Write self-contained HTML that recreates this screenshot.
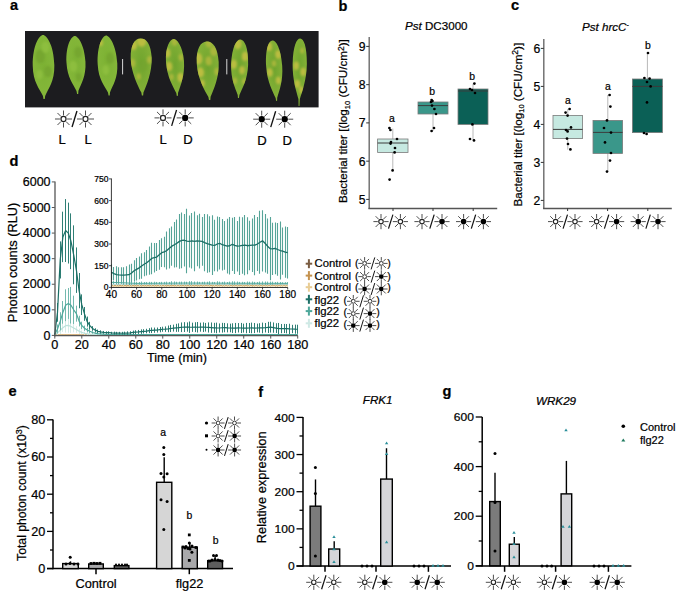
<!DOCTYPE html><html><head><meta charset="utf-8"><style>html,body{margin:0;padding:0;background:#fff;}svg{display:block;}text{font-family:"Liberation Sans", sans-serif;stroke:#000;stroke-width:0.22px;paint-order:stroke;}</style></head><body>
<svg width="685" height="601" viewBox="0 0 685 601">
<rect width="685" height="601" fill="#fff"/>
<text transform="translate(10 9.6) scale(1.04 1)" x="0" y="0" font-size="14" font-weight="bold">a</text>
<text transform="translate(338.5 11) scale(1.04 1)" x="0" y="0" font-size="14" font-weight="bold">b</text>
<text transform="translate(511 9.8) scale(1.04 1)" x="0" y="0" font-size="14" font-weight="bold">c</text>
<text transform="translate(9.6 165.6) scale(1.04 1)" x="0" y="0" font-size="14" font-weight="bold">d</text>
<text transform="translate(8.4 396.2) scale(1.04 1)" x="0" y="0" font-size="14" font-weight="bold">e</text>
<text transform="translate(258.2 397) scale(1.04 1)" x="0" y="0" font-size="14" font-weight="bold">f</text>
<text transform="translate(442.4 395.5) scale(1.04 1)" x="0" y="0" font-size="14" font-weight="bold">g</text>
<defs><radialGradient id="lg1" cx="0.5" cy="0.45" r="0.6"><stop offset="0" stop-color="#7cb134"/><stop offset="1" stop-color="#86b83a"/></radialGradient><radialGradient id="lg2" cx="0.5" cy="0.45" r="0.6"><stop offset="0" stop-color="#6fa42e"/><stop offset="1" stop-color="#88b338"/></radialGradient></defs>
<rect x="25" y="31" width="293.6" height="76.4" fill="#1c1c1f"/>
<defs><filter id="sb" x="-50%" y="-50%" width="200%" height="200%"><feGaussianBlur stdDeviation="1.1"/></filter></defs>
<g transform="translate(43,35) rotate(-1)"><clipPath id="lc430"><path d="M 0 0 C 3.24 0, 10.58 9.15, 10.8 30.5 C 10.8 46.97, 4.32 53.68, 1.08 61 L 0.65 64 L -0.65 64 L -1.08 61 C -4.32 53.68, -10.8 46.97, -10.8 30.5 C -10.58 9.15, -3.24 0, 0 0 Z"/></clipPath><path d="M 0 0 C 3.24 0, 10.58 9.15, 10.8 30.5 C 10.8 46.97, 4.32 53.68, 1.08 61 L 0.65 64 L -0.65 64 L -1.08 61 C -4.32 53.68, -10.8 46.97, -10.8 30.5 C -10.58 9.15, -3.24 0, 0 0 Z" fill="url(#lg1)"/><g clip-path="url(#lc430)" filter="url(#sb)"><ellipse cx="-3.24" cy="21.35" rx="4.8" ry="6.9" fill="#74a52e" opacity="0.85"/><ellipse cx="4.32" cy="36.6" rx="4" ry="5.75" fill="#74a52e" opacity="0.85"/><ellipse cx="2.16" cy="12.2" rx="4" ry="5.75" fill="#8fbf40" opacity="0.85"/><ellipse cx="-4.32" cy="39.65" rx="3.2" ry="4.6" fill="#8fbf40" opacity="0.85"/></g></g>
<g transform="translate(74.6,36) rotate(-3)"><clipPath id="lc746"><path d="M 0 0 C 2.85 0, 9.31 7.92, 9.5 26.4 C 9.5 41.25, 3.8 48.4, 0.95 55 L 0.57 58 L -0.57 58 L -0.95 55 C -3.8 48.4, -9.5 41.25, -9.5 26.4 C -9.31 7.92, -2.85 0, 0 0 Z"/></clipPath><path d="M 0 0 C 2.85 0, 9.31 7.92, 9.5 26.4 C 9.5 41.25, 3.8 48.4, 0.95 55 L 0.57 58 L -0.57 58 L -0.95 55 C -3.8 48.4, -9.5 41.25, -9.5 26.4 C -9.31 7.92, -2.85 0, 0 0 Z" fill="url(#lg1)"/><g clip-path="url(#lc746)" filter="url(#sb)"><ellipse cx="2.85" cy="16.5" rx="4" ry="5.75" fill="#74a52e" opacity="0.85"/><ellipse cx="-2.85" cy="30.25" rx="4" ry="5.75" fill="#8fbf40" opacity="0.85"/><ellipse cx="1.9" cy="41.25" rx="2.88" ry="4.14" fill="#74a52e" opacity="0.85"/></g></g>
<g transform="translate(106,35.6) rotate(-3)"><clipPath id="lc1060"><path d="M 0 0 C 2.94 0, 9.6 8.55, 9.8 28.5 C 9.8 43.89, 3.92 50.16, 0.98 57 L 0.59 60 L -0.59 60 L -0.98 57 C -3.92 50.16, -9.8 43.89, -9.8 28.5 C -9.6 8.55, -2.94 0, 0 0 Z"/></clipPath><path d="M 0 0 C 2.94 0, 9.6 8.55, 9.8 28.5 C 9.8 43.89, 3.92 50.16, 0.98 57 L 0.59 60 L -0.59 60 L -0.98 57 C -3.92 50.16, -9.8 43.89, -9.8 28.5 C -9.6 8.55, -2.94 0, 0 0 Z" fill="url(#lg1)"/><g clip-path="url(#lc1060)" filter="url(#sb)"><ellipse cx="-5.88" cy="6.84" rx="2.4" ry="3.45" fill="#c6c043" opacity="0.85"/><ellipse cx="2.94" cy="22.8" rx="4" ry="5.75" fill="#74a52e" opacity="0.85"/><ellipse cx="-1.96" cy="34.2" rx="3.52" ry="5.06" fill="#8fbf40" opacity="0.85"/></g></g>
<g transform="translate(140.5,38.4) rotate(-2)"><clipPath id="lc1405"><path d="M 0 0 C 5.78 0, 10.29 5.85, 10.5 19.51 C 10.5 34.15, 4.2 47.7, 1.05 54.2 L 0.63 57.2 L -0.63 57.2 L -1.05 54.2 C -4.2 47.7, -10.5 34.15, -10.5 19.51 C -10.29 5.85, -5.78 0, 0 0 Z"/></clipPath><path d="M 0 0 C 5.78 0, 10.29 5.85, 10.5 19.51 C 10.5 34.15, 4.2 47.7, 1.05 54.2 L 0.63 57.2 L -0.63 57.2 L -1.05 54.2 C -4.2 47.7, -10.5 34.15, -10.5 19.51 C -10.29 5.85, -5.78 0, 0 0 Z" fill="url(#lg2)"/><g clip-path="url(#lc1405)" filter="url(#sb)"><ellipse cx="1.05" cy="1.63" rx="4.8" ry="6.9" fill="#c6c043" opacity="0.85"/><ellipse cx="-7.35" cy="6.5" rx="3.52" ry="5.06" fill="#c6c043" opacity="0.85"/><ellipse cx="-8.92" cy="24.39" rx="2.88" ry="4.14" fill="#b0b83c" opacity="0.85"/><ellipse cx="8.4" cy="21.68" rx="2.56" ry="3.68" fill="#b0b83c" opacity="0.85"/><ellipse cx="-3.15" cy="37.94" rx="2.24" ry="3.22" fill="#b0b83c" opacity="0.85"/><ellipse cx="2.1" cy="27.1" rx="4" ry="5.75" fill="#74a52e" opacity="0.85"/></g></g>
<g transform="translate(173.4,39) rotate(-4)"><clipPath id="lc1734"><path d="M 0 0 C 3.15 0, 8.82 6.8, 9 22.68 C 9 37.26, 3.6 47.52, 0.9 54 L 0.54 57 L -0.54 57 L -0.9 54 C -3.6 47.52, -9 37.26, -9 22.68 C -8.82 6.8, -3.15 0, 0 0 Z"/></clipPath><path d="M 0 0 C 3.15 0, 8.82 6.8, 9 22.68 C 9 37.26, 3.6 47.52, 0.9 54 L 0.54 57 L -0.54 57 L -0.9 54 C -3.6 47.52, -9 37.26, -9 22.68 C -8.82 6.8, -3.15 0, 0 0 Z" fill="url(#lg2)"/><g clip-path="url(#lc1734)" filter="url(#sb)"><ellipse cx="-7.2" cy="13.5" rx="3.2" ry="4.6" fill="#c6c043" opacity="0.85"/><ellipse cx="-6.3" cy="27" rx="3.2" ry="4.6" fill="#c6c043" opacity="0.85"/><ellipse cx="4.5" cy="38.88" rx="3.2" ry="4.6" fill="#c6c043" opacity="0.85"/><ellipse cx="6.3" cy="18.9" rx="2.4" ry="3.45" fill="#b0b83c" opacity="0.85"/><ellipse cx="-4.5" cy="37.8" rx="2.08" ry="2.99" fill="#b0b83c" opacity="0.85"/><ellipse cx="0.9" cy="2.7" rx="2.88" ry="4.14" fill="#b0b83c" opacity="0.85"/></g></g>
<g transform="translate(206.6,41.6) rotate(-3)"><clipPath id="lc2066"><path d="M 0 0 C 6.05 0, 10.78 6.32, 11 21.05 C 11 36.01, 4.4 48.75, 1.1 55.4 L 0.66 58.4 L -0.66 58.4 L -1.1 55.4 C -4.4 48.75, -11 36.01, -11 21.05 C -10.78 6.32, -6.05 0, 0 0 Z"/></clipPath><path d="M 0 0 C 6.05 0, 10.78 6.32, 11 21.05 C 11 36.01, 4.4 48.75, 1.1 55.4 L 0.66 58.4 L -0.66 58.4 L -1.1 55.4 C -4.4 48.75, -11 36.01, -11 21.05 C -10.78 6.32, -6.05 0, 0 0 Z" fill="url(#lg2)"/><g clip-path="url(#lc2066)" filter="url(#sb)"><ellipse cx="-9.35" cy="16.62" rx="4.16" ry="5.98" fill="#c6c043" opacity="0.85"/><ellipse cx="-7.7" cy="30.47" rx="3.52" ry="5.06" fill="#c6c043" opacity="0.85"/><ellipse cx="6.6" cy="9.97" rx="3.52" ry="5.06" fill="#b0b83c" opacity="0.85"/><ellipse cx="1.1" cy="19.39" rx="3.2" ry="4.6" fill="#b0b83c" opacity="0.85"/><ellipse cx="-6.6" cy="41.55" rx="2.56" ry="3.68" fill="#c6c043" opacity="0.85"/><ellipse cx="8.8" cy="30.47" rx="2.56" ry="3.68" fill="#b0b83c" opacity="0.85"/><ellipse cx="2.2" cy="1.11" rx="3.52" ry="5.06" fill="#b0b83c" opacity="0.85"/></g></g>
<g transform="translate(240.5,39.5) rotate(2)"><clipPath id="lc2405"><path d="M 0 0 C 3.83 0, 8.33 7.49, 8.5 24.98 C 8.5 39.96, 3.4 48.84, 0.85 55.5 L 0.51 58.5 L -0.51 58.5 L -0.85 55.5 C -3.4 48.84, -8.5 39.96, -8.5 24.98 C -8.33 7.49, -3.83 0, 0 0 Z"/></clipPath><path d="M 0 0 C 3.83 0, 8.33 7.49, 8.5 24.98 C 8.5 39.96, 3.4 48.84, 0.85 55.5 L 0.51 58.5 L -0.51 58.5 L -0.85 55.5 C -3.4 48.84, -8.5 39.96, -8.5 24.98 C -8.33 7.49, -3.83 0, 0 0 Z" fill="url(#lg2)"/><g clip-path="url(#lc2405)" filter="url(#sb)"><ellipse cx="-2.55" cy="4.44" rx="3.68" ry="5.29" fill="#c6c043" opacity="0.85"/><ellipse cx="5.1" cy="16.65" rx="3.2" ry="4.6" fill="#c6c043" opacity="0.85"/><ellipse cx="-5.95" cy="24.98" rx="3.2" ry="4.6" fill="#c6c043" opacity="0.85"/><ellipse cx="2.55" cy="30.53" rx="2.88" ry="4.14" fill="#c6c043" opacity="0.85"/><ellipse cx="-4.25" cy="41.62" rx="2.4" ry="3.45" fill="#b0b83c" opacity="0.85"/><ellipse cx="5.1" cy="41.62" rx="2.24" ry="3.22" fill="#b0b83c" opacity="0.85"/></g></g>
<g transform="translate(272.4,40.5) rotate(-4)"><clipPath id="lc2724"><path d="M 0 0 C 3.6 0, 7.84 7.76, 8 25.88 C 8 41.4, 3.2 50.6, 0.8 57.5 L 0.48 60.5 L -0.48 60.5 L -0.8 57.5 C -3.2 50.6, -8 41.4, -8 25.88 C -7.84 7.76, -3.6 0, 0 0 Z"/></clipPath><path d="M 0 0 C 3.6 0, 7.84 7.76, 8 25.88 C 8 41.4, 3.2 50.6, 0.8 57.5 L 0.48 60.5 L -0.48 60.5 L -0.8 57.5 C -3.2 50.6, -8 41.4, -8 25.88 C -7.84 7.76, -3.6 0, 0 0 Z" fill="url(#lg2)"/><g clip-path="url(#lc2724)" filter="url(#sb)"><ellipse cx="-4" cy="5.75" rx="3.2" ry="4.6" fill="#c6c043" opacity="0.85"/><ellipse cx="4.8" cy="14.38" rx="2.88" ry="4.14" fill="#c6c043" opacity="0.85"/><ellipse cx="-4.8" cy="31.63" rx="2.88" ry="4.14" fill="#c6c043" opacity="0.85"/><ellipse cx="3.2" cy="40.25" rx="2.56" ry="3.68" fill="#c6c043" opacity="0.85"/><ellipse cx="0" cy="23" rx="2.24" ry="3.22" fill="#b0b83c" opacity="0.85"/></g></g>
<g transform="translate(300.2,38.6) rotate(1)"><clipPath id="lc3002"><path d="M 0 0 C 3.55 0, 6.96 7.61, 7.1 25.37 C 7.1 41.68, 2.84 53.15, 0.71 60.4 L 0.43 67.4 L -0.43 67.4 L -0.71 60.4 C -2.84 53.15, -7.1 41.68, -7.1 25.37 C -6.96 7.61, -3.55 0, 0 0 Z"/></clipPath><path d="M 0 0 C 3.55 0, 6.96 7.61, 7.1 25.37 C 7.1 41.68, 2.84 53.15, 0.71 60.4 L 0.43 67.4 L -0.43 67.4 L -0.71 60.4 C -2.84 53.15, -7.1 41.68, -7.1 25.37 C -6.96 7.61, -3.55 0, 0 0 Z" fill="url(#lg2)"/><g clip-path="url(#lc3002)" filter="url(#sb)"><ellipse cx="-3.55" cy="27.18" rx="2.88" ry="4.14" fill="#c6c043" opacity="0.85"/><ellipse cx="3.55" cy="33.22" rx="2.88" ry="4.14" fill="#c6c043" opacity="0.85"/><ellipse cx="-2.13" cy="45.3" rx="2.88" ry="4.14" fill="#c6c043" opacity="0.85"/><ellipse cx="2.13" cy="51.34" rx="2.56" ry="3.68" fill="#c6c043" opacity="0.85"/><ellipse cx="2.13" cy="12.08" rx="2.08" ry="2.99" fill="#b0b83c" opacity="0.85"/></g></g>
<line x1="122.6" y1="59" x2="122.6" y2="74.4" stroke="#d8d8d8" stroke-width="1"/>
<line x1="226.8" y1="59" x2="226.8" y2="74.4" stroke="#d8d8d8" stroke-width="1"/>
<g><line x1="67.08" y1="119" x2="72.01" y2="119" stroke="#2e2e2e" stroke-width="0.85"/><line x1="66.03" y1="121.53" x2="69.52" y2="125.02" stroke="#2e2e2e" stroke-width="0.85"/><line x1="63.5" y1="122.58" x2="63.5" y2="127.51" stroke="#2e2e2e" stroke-width="0.85"/><line x1="60.97" y1="121.53" x2="57.48" y2="125.02" stroke="#2e2e2e" stroke-width="0.85"/><line x1="59.92" y1="119" x2="54.99" y2="119" stroke="#2e2e2e" stroke-width="0.85"/><line x1="60.97" y1="116.47" x2="57.48" y2="112.98" stroke="#2e2e2e" stroke-width="0.85"/><line x1="63.5" y1="115.42" x2="63.5" y2="110.49" stroke="#2e2e2e" stroke-width="0.85"/><line x1="66.03" y1="116.47" x2="69.52" y2="112.98" stroke="#2e2e2e" stroke-width="0.85"/><circle cx="63.5" cy="119" r="2.52" fill="#fff" stroke="#222" stroke-width="1.23"/></g>
<g><line x1="89.08" y1="119" x2="94.01" y2="119" stroke="#2e2e2e" stroke-width="0.85"/><line x1="88.03" y1="121.53" x2="91.52" y2="125.02" stroke="#2e2e2e" stroke-width="0.85"/><line x1="85.5" y1="122.58" x2="85.5" y2="127.51" stroke="#2e2e2e" stroke-width="0.85"/><line x1="82.97" y1="121.53" x2="79.48" y2="125.02" stroke="#2e2e2e" stroke-width="0.85"/><line x1="81.92" y1="119" x2="76.99" y2="119" stroke="#2e2e2e" stroke-width="0.85"/><line x1="82.97" y1="116.47" x2="79.48" y2="112.98" stroke="#2e2e2e" stroke-width="0.85"/><line x1="85.5" y1="115.42" x2="85.5" y2="110.49" stroke="#2e2e2e" stroke-width="0.85"/><line x1="88.03" y1="116.47" x2="91.52" y2="112.98" stroke="#2e2e2e" stroke-width="0.85"/><circle cx="85.5" cy="119" r="2.52" fill="#fff" stroke="#222" stroke-width="1.23"/></g>
<line x1="76.96" y1="111.05" x2="72.04" y2="126.95" stroke="#111" stroke-width="1.344"/>
<g><line x1="166.58" y1="117.9" x2="171.51" y2="117.9" stroke="#2e2e2e" stroke-width="0.85"/><line x1="165.53" y1="120.43" x2="169.02" y2="123.92" stroke="#2e2e2e" stroke-width="0.85"/><line x1="163" y1="121.48" x2="163" y2="126.41" stroke="#2e2e2e" stroke-width="0.85"/><line x1="160.47" y1="120.43" x2="156.98" y2="123.92" stroke="#2e2e2e" stroke-width="0.85"/><line x1="159.42" y1="117.9" x2="154.49" y2="117.9" stroke="#2e2e2e" stroke-width="0.85"/><line x1="160.47" y1="115.37" x2="156.98" y2="111.88" stroke="#2e2e2e" stroke-width="0.85"/><line x1="163" y1="114.32" x2="163" y2="109.39" stroke="#2e2e2e" stroke-width="0.85"/><line x1="165.53" y1="115.37" x2="169.02" y2="111.88" stroke="#2e2e2e" stroke-width="0.85"/><circle cx="163" cy="117.9" r="2.52" fill="#fff" stroke="#222" stroke-width="1.23"/></g>
<g><line x1="188.78" y1="117.9" x2="193.71" y2="117.9" stroke="#2e2e2e" stroke-width="0.85"/><line x1="187.73" y1="120.43" x2="191.22" y2="123.92" stroke="#2e2e2e" stroke-width="0.85"/><line x1="185.2" y1="121.48" x2="185.2" y2="126.41" stroke="#2e2e2e" stroke-width="0.85"/><line x1="182.67" y1="120.43" x2="179.18" y2="123.92" stroke="#2e2e2e" stroke-width="0.85"/><line x1="181.62" y1="117.9" x2="176.69" y2="117.9" stroke="#2e2e2e" stroke-width="0.85"/><line x1="182.67" y1="115.37" x2="179.18" y2="111.88" stroke="#2e2e2e" stroke-width="0.85"/><line x1="185.2" y1="114.32" x2="185.2" y2="109.39" stroke="#2e2e2e" stroke-width="0.85"/><line x1="187.73" y1="115.37" x2="191.22" y2="111.88" stroke="#2e2e2e" stroke-width="0.85"/><circle cx="185.2" cy="117.9" r="3.14" fill="#000"/></g>
<line x1="176.56" y1="109.95" x2="171.64" y2="125.85" stroke="#111" stroke-width="1.344"/>
<g><line x1="265.28" y1="119.2" x2="270.21" y2="119.2" stroke="#2e2e2e" stroke-width="0.85"/><line x1="264.23" y1="121.73" x2="267.72" y2="125.22" stroke="#2e2e2e" stroke-width="0.85"/><line x1="261.7" y1="122.78" x2="261.7" y2="127.71" stroke="#2e2e2e" stroke-width="0.85"/><line x1="259.17" y1="121.73" x2="255.68" y2="125.22" stroke="#2e2e2e" stroke-width="0.85"/><line x1="258.12" y1="119.2" x2="253.19" y2="119.2" stroke="#2e2e2e" stroke-width="0.85"/><line x1="259.17" y1="116.67" x2="255.68" y2="113.18" stroke="#2e2e2e" stroke-width="0.85"/><line x1="261.7" y1="115.62" x2="261.7" y2="110.69" stroke="#2e2e2e" stroke-width="0.85"/><line x1="264.23" y1="116.67" x2="267.72" y2="113.18" stroke="#2e2e2e" stroke-width="0.85"/><circle cx="261.7" cy="119.2" r="3.14" fill="#000"/></g>
<g><line x1="288.28" y1="119.2" x2="293.21" y2="119.2" stroke="#2e2e2e" stroke-width="0.85"/><line x1="287.23" y1="121.73" x2="290.72" y2="125.22" stroke="#2e2e2e" stroke-width="0.85"/><line x1="284.7" y1="122.78" x2="284.7" y2="127.71" stroke="#2e2e2e" stroke-width="0.85"/><line x1="282.17" y1="121.73" x2="278.68" y2="125.22" stroke="#2e2e2e" stroke-width="0.85"/><line x1="281.12" y1="119.2" x2="276.19" y2="119.2" stroke="#2e2e2e" stroke-width="0.85"/><line x1="282.17" y1="116.67" x2="278.68" y2="113.18" stroke="#2e2e2e" stroke-width="0.85"/><line x1="284.7" y1="115.62" x2="284.7" y2="110.69" stroke="#2e2e2e" stroke-width="0.85"/><line x1="287.23" y1="116.67" x2="290.72" y2="113.18" stroke="#2e2e2e" stroke-width="0.85"/><circle cx="284.7" cy="119.2" r="3.14" fill="#000"/></g>
<line x1="275.66" y1="111.25" x2="270.74" y2="127.15" stroke="#111" stroke-width="1.344"/>
<text transform="translate(58.5 144) scale(1.04 1)" x="0" y="0" font-size="12.6">L</text>
<text transform="translate(84.6 144) scale(1.04 1)" x="0" y="0" font-size="12.6">L</text>
<text transform="translate(159.4 144) scale(1.04 1)" x="0" y="0" font-size="12.6">L</text>
<text transform="translate(183.2 143.6) scale(1.04 1)" x="0" y="0" font-size="12.6">D</text>
<text transform="translate(257.2 145.3) scale(1.04 1)" x="0" y="0" font-size="12.6">D</text>
<text transform="translate(282.5 145.3) scale(1.04 1)" x="0" y="0" font-size="12.6">D</text>
<line x1="369.2" y1="37" x2="369.2" y2="209" stroke="#6a6a6a" stroke-width="1.4"/>
<line x1="368.5" y1="208.5" x2="497.2" y2="208.5" stroke="#555" stroke-width="1.3"/>
<line x1="366.2" y1="199.4" x2="369.2" y2="199.4" stroke="#333" stroke-width="1"/>
<text x="365.6" y="203.8" font-size="12.2" text-anchor="end">5</text>
<line x1="366.2" y1="161.15" x2="369.2" y2="161.15" stroke="#333" stroke-width="1"/>
<text x="365.6" y="165.55" font-size="12.2" text-anchor="end">6</text>
<line x1="366.2" y1="122.9" x2="369.2" y2="122.9" stroke="#333" stroke-width="1"/>
<text x="365.6" y="127.3" font-size="12.2" text-anchor="end">7</text>
<line x1="366.2" y1="84.65" x2="369.2" y2="84.65" stroke="#333" stroke-width="1"/>
<text x="365.6" y="89.05" font-size="12.2" text-anchor="end">8</text>
<line x1="366.2" y1="46.4" x2="369.2" y2="46.4" stroke="#333" stroke-width="1"/>
<text x="365.6" y="50.8" font-size="12.2" text-anchor="end">9</text>
<line x1="393" y1="208.4" x2="393" y2="211" stroke="#333" stroke-width="1"/>
<line x1="433" y1="208.4" x2="433" y2="211" stroke="#333" stroke-width="1"/>
<line x1="473.2" y1="208.4" x2="473.2" y2="211" stroke="#333" stroke-width="1"/>
<line x1="392.8" y1="128.6" x2="392.8" y2="170.4" stroke="#b8b8b8" stroke-width="1"/>
<rect x="377.6" y="139" width="30.4" height="13.4" fill="#c6e9e1" stroke="#7a7a7a" stroke-width="0.8"/>
<line x1="377.6" y1="143" x2="408" y2="143" stroke="#3c3c3c" stroke-width="1"/>
<line x1="433" y1="100" x2="433" y2="131" stroke="#b8b8b8" stroke-width="1"/>
<rect x="418" y="102" width="30" height="12" fill="#3a978a" stroke="#7a7a7a" stroke-width="0.8"/>
<line x1="418" y1="105.6" x2="448" y2="105.6" stroke="#3c3c3c" stroke-width="1"/>
<line x1="473" y1="83.6" x2="473" y2="140" stroke="#b8b8b8" stroke-width="1"/>
<rect x="458" y="89" width="30" height="35.4" fill="#0b6056" stroke="#7a7a7a" stroke-width="0.8"/>
<line x1="458" y1="91" x2="488" y2="91" stroke="#3c3c3c" stroke-width="1"/>
<circle cx="389.4" cy="128" r="1.35" fill="#000"/>
<circle cx="390.4" cy="130" r="1.35" fill="#000"/>
<circle cx="397" cy="139" r="1.35" fill="#000"/>
<circle cx="391" cy="142" r="1.35" fill="#000"/>
<circle cx="390.6" cy="143.6" r="1.35" fill="#000"/>
<circle cx="395" cy="148" r="1.35" fill="#000"/>
<circle cx="394.6" cy="152.4" r="1.35" fill="#000"/>
<circle cx="392.6" cy="170.4" r="1.35" fill="#000"/>
<circle cx="389.6" cy="179.6" r="1.35" fill="#000"/>
<circle cx="431.6" cy="100" r="1.35" fill="#000"/>
<circle cx="431" cy="102" r="1.35" fill="#000"/>
<circle cx="432.4" cy="101" r="1.35" fill="#000"/>
<circle cx="432" cy="105.6" r="1.35" fill="#000"/>
<circle cx="434.4" cy="109" r="1.35" fill="#000"/>
<circle cx="436" cy="114" r="1.35" fill="#000"/>
<circle cx="434" cy="128" r="1.35" fill="#000"/>
<circle cx="431.6" cy="131" r="1.35" fill="#000"/>
<circle cx="474.4" cy="83.6" r="1.35" fill="#000"/>
<circle cx="470" cy="89" r="1.35" fill="#000"/>
<circle cx="472" cy="90" r="1.35" fill="#000"/>
<circle cx="475" cy="93" r="1.35" fill="#000"/>
<circle cx="472.4" cy="124.4" r="1.35" fill="#000"/>
<circle cx="470" cy="139" r="1.35" fill="#000"/>
<circle cx="474" cy="140.4" r="1.35" fill="#000"/>
<text transform="translate(391.9 122) scale(1.04 1)" x="0" y="0" font-size="10" text-anchor="middle">a</text>
<text transform="translate(432.2 95) scale(1.04 1)" x="0" y="0" font-size="10" text-anchor="middle">b</text>
<text transform="translate(472.2 80) scale(1.04 1)" x="0" y="0" font-size="10" text-anchor="middle">b</text>
<g><line x1="384.2" y1="221.6" x2="388.6" y2="221.6" stroke="#2e2e2e" stroke-width="0.85"/><line x1="383.26" y1="223.86" x2="386.37" y2="226.97" stroke="#2e2e2e" stroke-width="0.85"/><line x1="381" y1="224.8" x2="381" y2="229.2" stroke="#2e2e2e" stroke-width="0.85"/><line x1="378.74" y1="223.86" x2="375.63" y2="226.97" stroke="#2e2e2e" stroke-width="0.85"/><line x1="377.8" y1="221.6" x2="373.4" y2="221.6" stroke="#2e2e2e" stroke-width="0.85"/><line x1="378.74" y1="219.34" x2="375.63" y2="216.23" stroke="#2e2e2e" stroke-width="0.85"/><line x1="381" y1="218.4" x2="381" y2="214" stroke="#2e2e2e" stroke-width="0.85"/><line x1="383.26" y1="219.34" x2="386.37" y2="216.23" stroke="#2e2e2e" stroke-width="0.85"/><circle cx="381" cy="221.6" r="2.25" fill="#fff" stroke="#222" stroke-width="1.1"/></g>
<g><line x1="403.6" y1="221.6" x2="408" y2="221.6" stroke="#2e2e2e" stroke-width="0.85"/><line x1="402.66" y1="223.86" x2="405.77" y2="226.97" stroke="#2e2e2e" stroke-width="0.85"/><line x1="400.4" y1="224.8" x2="400.4" y2="229.2" stroke="#2e2e2e" stroke-width="0.85"/><line x1="398.14" y1="223.86" x2="395.03" y2="226.97" stroke="#2e2e2e" stroke-width="0.85"/><line x1="397.2" y1="221.6" x2="392.8" y2="221.6" stroke="#2e2e2e" stroke-width="0.85"/><line x1="398.14" y1="219.34" x2="395.03" y2="216.23" stroke="#2e2e2e" stroke-width="0.85"/><line x1="400.4" y1="218.4" x2="400.4" y2="214" stroke="#2e2e2e" stroke-width="0.85"/><line x1="402.66" y1="219.34" x2="405.77" y2="216.23" stroke="#2e2e2e" stroke-width="0.85"/><circle cx="400.4" cy="221.6" r="2.25" fill="#fff" stroke="#222" stroke-width="1.1"/></g>
<line x1="392.9" y1="214.6" x2="388.5" y2="228.6" stroke="#111" stroke-width="1.2"/>
<g><line x1="425.2" y1="221.6" x2="429.6" y2="221.6" stroke="#2e2e2e" stroke-width="0.85"/><line x1="424.26" y1="223.86" x2="427.37" y2="226.97" stroke="#2e2e2e" stroke-width="0.85"/><line x1="422" y1="224.8" x2="422" y2="229.2" stroke="#2e2e2e" stroke-width="0.85"/><line x1="419.74" y1="223.86" x2="416.63" y2="226.97" stroke="#2e2e2e" stroke-width="0.85"/><line x1="418.8" y1="221.6" x2="414.4" y2="221.6" stroke="#2e2e2e" stroke-width="0.85"/><line x1="419.74" y1="219.34" x2="416.63" y2="216.23" stroke="#2e2e2e" stroke-width="0.85"/><line x1="422" y1="218.4" x2="422" y2="214" stroke="#2e2e2e" stroke-width="0.85"/><line x1="424.26" y1="219.34" x2="427.37" y2="216.23" stroke="#2e2e2e" stroke-width="0.85"/><circle cx="422" cy="221.6" r="2.25" fill="#fff" stroke="#222" stroke-width="1.1"/></g>
<g><line x1="445.2" y1="221.6" x2="449.6" y2="221.6" stroke="#2e2e2e" stroke-width="0.85"/><line x1="444.26" y1="223.86" x2="447.37" y2="226.97" stroke="#2e2e2e" stroke-width="0.85"/><line x1="442" y1="224.8" x2="442" y2="229.2" stroke="#2e2e2e" stroke-width="0.85"/><line x1="439.74" y1="223.86" x2="436.63" y2="226.97" stroke="#2e2e2e" stroke-width="0.85"/><line x1="438.8" y1="221.6" x2="434.4" y2="221.6" stroke="#2e2e2e" stroke-width="0.85"/><line x1="439.74" y1="219.34" x2="436.63" y2="216.23" stroke="#2e2e2e" stroke-width="0.85"/><line x1="442" y1="218.4" x2="442" y2="214" stroke="#2e2e2e" stroke-width="0.85"/><line x1="444.26" y1="219.34" x2="447.37" y2="216.23" stroke="#2e2e2e" stroke-width="0.85"/><circle cx="442" cy="221.6" r="2.8" fill="#000"/></g>
<line x1="434.2" y1="214.6" x2="429.8" y2="228.6" stroke="#111" stroke-width="1.2"/>
<g><line x1="466.8" y1="221.6" x2="471.2" y2="221.6" stroke="#2e2e2e" stroke-width="0.85"/><line x1="465.86" y1="223.86" x2="468.97" y2="226.97" stroke="#2e2e2e" stroke-width="0.85"/><line x1="463.6" y1="224.8" x2="463.6" y2="229.2" stroke="#2e2e2e" stroke-width="0.85"/><line x1="461.34" y1="223.86" x2="458.23" y2="226.97" stroke="#2e2e2e" stroke-width="0.85"/><line x1="460.4" y1="221.6" x2="456" y2="221.6" stroke="#2e2e2e" stroke-width="0.85"/><line x1="461.34" y1="219.34" x2="458.23" y2="216.23" stroke="#2e2e2e" stroke-width="0.85"/><line x1="463.6" y1="218.4" x2="463.6" y2="214" stroke="#2e2e2e" stroke-width="0.85"/><line x1="465.86" y1="219.34" x2="468.97" y2="216.23" stroke="#2e2e2e" stroke-width="0.85"/><circle cx="463.6" cy="221.6" r="2.8" fill="#000"/></g>
<g><line x1="486.6" y1="221.6" x2="491" y2="221.6" stroke="#2e2e2e" stroke-width="0.85"/><line x1="485.66" y1="223.86" x2="488.77" y2="226.97" stroke="#2e2e2e" stroke-width="0.85"/><line x1="483.4" y1="224.8" x2="483.4" y2="229.2" stroke="#2e2e2e" stroke-width="0.85"/><line x1="481.14" y1="223.86" x2="478.03" y2="226.97" stroke="#2e2e2e" stroke-width="0.85"/><line x1="480.2" y1="221.6" x2="475.8" y2="221.6" stroke="#2e2e2e" stroke-width="0.85"/><line x1="481.14" y1="219.34" x2="478.03" y2="216.23" stroke="#2e2e2e" stroke-width="0.85"/><line x1="483.4" y1="218.4" x2="483.4" y2="214" stroke="#2e2e2e" stroke-width="0.85"/><line x1="485.66" y1="219.34" x2="488.77" y2="216.23" stroke="#2e2e2e" stroke-width="0.85"/><circle cx="483.4" cy="221.6" r="2.8" fill="#000"/></g>
<line x1="475.7" y1="214.6" x2="471.3" y2="228.6" stroke="#111" stroke-width="1.2"/>
<text x="405" y="30.4" font-size="11.6"><tspan font-style="italic">Pst</tspan> DC3000</text>
<text x="347.5" y="121.1" font-size="11.65" text-anchor="middle" transform="rotate(-90 347.5 121.1)">Bacterial titer [(log<tspan font-size="7.5" dy="2.5">10</tspan><tspan dy="-2.5"> (CFU/cm</tspan><tspan font-size="8.5" dy="-3.6">2</tspan><tspan dy="3.6">)]</tspan></text>
<line x1="543.8" y1="39" x2="543.8" y2="209" stroke="#6a6a6a" stroke-width="1.4"/>
<line x1="543.1" y1="208.5" x2="671.8" y2="208.5" stroke="#555" stroke-width="1.3"/>
<line x1="540.8" y1="200.4" x2="543.8" y2="200.4" stroke="#333" stroke-width="1"/>
<text x="540.2" y="204.8" font-size="12.2" text-anchor="end">2</text>
<line x1="540.8" y1="162.4" x2="543.8" y2="162.4" stroke="#333" stroke-width="1"/>
<text x="540.2" y="166.8" font-size="12.2" text-anchor="end">3</text>
<line x1="540.8" y1="124.4" x2="543.8" y2="124.4" stroke="#333" stroke-width="1"/>
<text x="540.2" y="128.8" font-size="12.2" text-anchor="end">4</text>
<line x1="540.8" y1="86.4" x2="543.8" y2="86.4" stroke="#333" stroke-width="1"/>
<text x="540.2" y="90.8" font-size="12.2" text-anchor="end">5</text>
<line x1="540.8" y1="48.4" x2="543.8" y2="48.4" stroke="#333" stroke-width="1"/>
<text x="540.2" y="52.8" font-size="12.2" text-anchor="end">6</text>
<line x1="567.6" y1="208.4" x2="567.6" y2="211" stroke="#333" stroke-width="1"/>
<line x1="607.6" y1="208.4" x2="607.6" y2="211" stroke="#333" stroke-width="1"/>
<line x1="647.8" y1="208.4" x2="647.8" y2="211" stroke="#333" stroke-width="1"/>
<line x1="567.8" y1="109" x2="567.8" y2="149.6" stroke="#b8b8b8" stroke-width="1"/>
<rect x="553" y="115.4" width="29.6" height="23.2" fill="#c6e9e1" stroke="#7a7a7a" stroke-width="0.8"/>
<line x1="553" y1="129.4" x2="582.6" y2="129.4" stroke="#3c3c3c" stroke-width="1"/>
<line x1="607.8" y1="95" x2="607.8" y2="171.6" stroke="#b8b8b8" stroke-width="1"/>
<rect x="593" y="120.4" width="29.6" height="33" fill="#3a978a" stroke="#7a7a7a" stroke-width="0.8"/>
<line x1="593" y1="132.4" x2="622.6" y2="132.4" stroke="#3c3c3c" stroke-width="1"/>
<line x1="647.4" y1="53" x2="647.4" y2="133" stroke="#b8b8b8" stroke-width="1"/>
<rect x="632.4" y="79" width="30" height="53.6" fill="#0b6056" stroke="#7a7a7a" stroke-width="0.8"/>
<line x1="632.4" y1="86.4" x2="662.4" y2="86.4" stroke="#3c3c3c" stroke-width="1"/>
<circle cx="569.6" cy="109" r="1.35" fill="#000"/>
<circle cx="565.6" cy="112.6" r="1.35" fill="#000"/>
<circle cx="567.6" cy="115.6" r="1.35" fill="#000"/>
<circle cx="571" cy="127.4" r="1.35" fill="#000"/>
<circle cx="566" cy="130" r="1.35" fill="#000"/>
<circle cx="567.6" cy="131.4" r="1.35" fill="#000"/>
<circle cx="567" cy="138.6" r="1.35" fill="#000"/>
<circle cx="568" cy="144" r="1.35" fill="#000"/>
<circle cx="570.4" cy="149.4" r="1.35" fill="#000"/>
<circle cx="609.6" cy="95" r="1.35" fill="#000"/>
<circle cx="610.4" cy="106.6" r="1.35" fill="#000"/>
<circle cx="607" cy="120.4" r="1.35" fill="#000"/>
<circle cx="604" cy="128" r="1.35" fill="#000"/>
<circle cx="611" cy="132.6" r="1.35" fill="#000"/>
<circle cx="605" cy="142.4" r="1.35" fill="#000"/>
<circle cx="611" cy="153" r="1.35" fill="#000"/>
<circle cx="610" cy="160.6" r="1.35" fill="#000"/>
<circle cx="607" cy="171.6" r="1.35" fill="#000"/>
<circle cx="648" cy="53" r="1.35" fill="#000"/>
<circle cx="644.4" cy="78" r="1.35" fill="#000"/>
<circle cx="649.6" cy="78.6" r="1.35" fill="#000"/>
<circle cx="647" cy="82" r="1.35" fill="#000"/>
<circle cx="650.6" cy="86.4" r="1.35" fill="#000"/>
<circle cx="647" cy="102.4" r="1.35" fill="#000"/>
<circle cx="644" cy="133" r="1.35" fill="#000"/>
<circle cx="646.6" cy="134" r="1.35" fill="#000"/>
<text transform="translate(568 104.4) scale(1.04 1)" x="0" y="0" font-size="10" text-anchor="middle">a</text>
<text transform="translate(608 89.6) scale(1.04 1)" x="0" y="0" font-size="10" text-anchor="middle">a</text>
<text transform="translate(647.8 48.5) scale(1.04 1)" x="0" y="0" font-size="10" text-anchor="middle">b</text>
<g><line x1="558.8" y1="221.6" x2="563.2" y2="221.6" stroke="#2e2e2e" stroke-width="0.85"/><line x1="557.86" y1="223.86" x2="560.97" y2="226.97" stroke="#2e2e2e" stroke-width="0.85"/><line x1="555.6" y1="224.8" x2="555.6" y2="229.2" stroke="#2e2e2e" stroke-width="0.85"/><line x1="553.34" y1="223.86" x2="550.23" y2="226.97" stroke="#2e2e2e" stroke-width="0.85"/><line x1="552.4" y1="221.6" x2="548" y2="221.6" stroke="#2e2e2e" stroke-width="0.85"/><line x1="553.34" y1="219.34" x2="550.23" y2="216.23" stroke="#2e2e2e" stroke-width="0.85"/><line x1="555.6" y1="218.4" x2="555.6" y2="214" stroke="#2e2e2e" stroke-width="0.85"/><line x1="557.86" y1="219.34" x2="560.97" y2="216.23" stroke="#2e2e2e" stroke-width="0.85"/><circle cx="555.6" cy="221.6" r="2.25" fill="#fff" stroke="#222" stroke-width="1.1"/></g>
<g><line x1="578.2" y1="221.6" x2="582.6" y2="221.6" stroke="#2e2e2e" stroke-width="0.85"/><line x1="577.26" y1="223.86" x2="580.37" y2="226.97" stroke="#2e2e2e" stroke-width="0.85"/><line x1="575" y1="224.8" x2="575" y2="229.2" stroke="#2e2e2e" stroke-width="0.85"/><line x1="572.74" y1="223.86" x2="569.63" y2="226.97" stroke="#2e2e2e" stroke-width="0.85"/><line x1="571.8" y1="221.6" x2="567.4" y2="221.6" stroke="#2e2e2e" stroke-width="0.85"/><line x1="572.74" y1="219.34" x2="569.63" y2="216.23" stroke="#2e2e2e" stroke-width="0.85"/><line x1="575" y1="218.4" x2="575" y2="214" stroke="#2e2e2e" stroke-width="0.85"/><line x1="577.26" y1="219.34" x2="580.37" y2="216.23" stroke="#2e2e2e" stroke-width="0.85"/><circle cx="575" cy="221.6" r="2.25" fill="#fff" stroke="#222" stroke-width="1.1"/></g>
<line x1="567.5" y1="214.6" x2="563.1" y2="228.6" stroke="#111" stroke-width="1.2"/>
<g><line x1="599.8" y1="221.6" x2="604.2" y2="221.6" stroke="#2e2e2e" stroke-width="0.85"/><line x1="598.86" y1="223.86" x2="601.97" y2="226.97" stroke="#2e2e2e" stroke-width="0.85"/><line x1="596.6" y1="224.8" x2="596.6" y2="229.2" stroke="#2e2e2e" stroke-width="0.85"/><line x1="594.34" y1="223.86" x2="591.23" y2="226.97" stroke="#2e2e2e" stroke-width="0.85"/><line x1="593.4" y1="221.6" x2="589" y2="221.6" stroke="#2e2e2e" stroke-width="0.85"/><line x1="594.34" y1="219.34" x2="591.23" y2="216.23" stroke="#2e2e2e" stroke-width="0.85"/><line x1="596.6" y1="218.4" x2="596.6" y2="214" stroke="#2e2e2e" stroke-width="0.85"/><line x1="598.86" y1="219.34" x2="601.97" y2="216.23" stroke="#2e2e2e" stroke-width="0.85"/><circle cx="596.6" cy="221.6" r="2.25" fill="#fff" stroke="#222" stroke-width="1.1"/></g>
<g><line x1="619.8" y1="221.6" x2="624.2" y2="221.6" stroke="#2e2e2e" stroke-width="0.85"/><line x1="618.86" y1="223.86" x2="621.97" y2="226.97" stroke="#2e2e2e" stroke-width="0.85"/><line x1="616.6" y1="224.8" x2="616.6" y2="229.2" stroke="#2e2e2e" stroke-width="0.85"/><line x1="614.34" y1="223.86" x2="611.23" y2="226.97" stroke="#2e2e2e" stroke-width="0.85"/><line x1="613.4" y1="221.6" x2="609" y2="221.6" stroke="#2e2e2e" stroke-width="0.85"/><line x1="614.34" y1="219.34" x2="611.23" y2="216.23" stroke="#2e2e2e" stroke-width="0.85"/><line x1="616.6" y1="218.4" x2="616.6" y2="214" stroke="#2e2e2e" stroke-width="0.85"/><line x1="618.86" y1="219.34" x2="621.97" y2="216.23" stroke="#2e2e2e" stroke-width="0.85"/><circle cx="616.6" cy="221.6" r="2.8" fill="#000"/></g>
<line x1="608.8" y1="214.6" x2="604.4" y2="228.6" stroke="#111" stroke-width="1.2"/>
<g><line x1="641.4" y1="221.6" x2="645.8" y2="221.6" stroke="#2e2e2e" stroke-width="0.85"/><line x1="640.46" y1="223.86" x2="643.57" y2="226.97" stroke="#2e2e2e" stroke-width="0.85"/><line x1="638.2" y1="224.8" x2="638.2" y2="229.2" stroke="#2e2e2e" stroke-width="0.85"/><line x1="635.94" y1="223.86" x2="632.83" y2="226.97" stroke="#2e2e2e" stroke-width="0.85"/><line x1="635" y1="221.6" x2="630.6" y2="221.6" stroke="#2e2e2e" stroke-width="0.85"/><line x1="635.94" y1="219.34" x2="632.83" y2="216.23" stroke="#2e2e2e" stroke-width="0.85"/><line x1="638.2" y1="218.4" x2="638.2" y2="214" stroke="#2e2e2e" stroke-width="0.85"/><line x1="640.46" y1="219.34" x2="643.57" y2="216.23" stroke="#2e2e2e" stroke-width="0.85"/><circle cx="638.2" cy="221.6" r="2.8" fill="#000"/></g>
<g><line x1="661.2" y1="221.6" x2="665.6" y2="221.6" stroke="#2e2e2e" stroke-width="0.85"/><line x1="660.26" y1="223.86" x2="663.37" y2="226.97" stroke="#2e2e2e" stroke-width="0.85"/><line x1="658" y1="224.8" x2="658" y2="229.2" stroke="#2e2e2e" stroke-width="0.85"/><line x1="655.74" y1="223.86" x2="652.63" y2="226.97" stroke="#2e2e2e" stroke-width="0.85"/><line x1="654.8" y1="221.6" x2="650.4" y2="221.6" stroke="#2e2e2e" stroke-width="0.85"/><line x1="655.74" y1="219.34" x2="652.63" y2="216.23" stroke="#2e2e2e" stroke-width="0.85"/><line x1="658" y1="218.4" x2="658" y2="214" stroke="#2e2e2e" stroke-width="0.85"/><line x1="660.26" y1="219.34" x2="663.37" y2="216.23" stroke="#2e2e2e" stroke-width="0.85"/><circle cx="658" cy="221.6" r="2.8" fill="#000"/></g>
<line x1="650.3" y1="214.6" x2="645.9" y2="228.6" stroke="#111" stroke-width="1.2"/>
<text x="582" y="31" font-size="11.6"><tspan font-style="italic">Pst hrcC</tspan><tspan font-size="7" dy="-4">-</tspan></text>
<text x="522" y="124.7" font-size="11.65" text-anchor="middle" transform="rotate(-90 522 124.7)">Bacterial titer [(log<tspan font-size="7.5" dy="2.5">10</tspan><tspan dy="-2.5"> (CFU/cm</tspan><tspan font-size="8.5" dy="-3.6">2</tspan><tspan dy="3.6">)]</tspan></text>
<defs><clipPath id="mainclip"><rect x="54" y="170" width="250" height="166"/></clipPath><clipPath id="inclip"><rect x="111" y="170" width="178" height="118"/></clipPath></defs>
<g clip-path="url(#mainclip)"><path d="M54.5 335.27V334.76M57.5 335.3V334.73M60.5 335.21V334.82M62.5 335.24V334.79M65.5 335.22V334.81M68.5 335.22V334.8M70.5 335.26V334.77M73.5 335.21V334.82M76.5 335.22V334.8M79.5 335.21V334.81M81.5 335.3V334.71M84.5 335.25V334.76M87.5 335.29V334.72M89.5 335.3V334.71M92.5 335.16V334.85M95.5 335.22V334.79M97.5 335.3V334.71M100.5 335.28V334.73M103.5 335.13V334.87M106.5 335.13V334.87M108.5 335.19V334.81M111.5 335.12V334.88M114.5 335.15V334.85M116.5 335.11V334.88M119.5 335.24V334.76M122.5 335.26V334.73M124.5 335.28V334.71M127.5 335.13V334.86M130.5 335.24V334.74M133.5 335.23V334.75M135.5 335.12V334.86M138.5 335.27V334.71M141.5 335.29V334.69M143.5 335.14V334.84M146.5 335.28V334.69M149.5 335.17V334.8M151.5 335.19V334.78M154.5 335.29V334.68M157.5 335.26V334.71M160.5 335.12V334.85M162.5 335.17V334.79M165.5 335.19V334.77M168.5 335.15V334.81M170.5 335.12V334.84M173.5 335.15V334.81M176.5 335.23V334.73M178.5 335.08V334.87M181.5 335.19V334.76M184.5 335.17V334.78M187.5 335.08V334.87M189.5 335.14V334.8M192.5 335.2V334.74M195.5 335.18V334.76M197.5 335.09V334.86M200.5 335.27V334.67M203.5 335.23V334.71M205.5 335.27V334.67M208.5 335.09V334.84M211.5 335.12V334.81M214.5 335.08V334.86M216.5 335.23V334.7M219.5 335.12V334.81M222.5 335.09V334.83M224.5 335.15V334.77M227.5 335.25V334.67M230.5 335.23V334.69M232.5 335.12V334.8M235.5 335.09V334.83M238.5 335.25V334.67M241.5 335.18V334.74M243.5 335.2V334.71M246.5 335.08V334.84M249.5 335.07V334.84M251.5 335.2V334.71M254.5 335.14V334.76M257.5 335.07V334.84M259.5 335.25V334.66M262.5 335.18V334.72M265.5 335.22V334.68M268.5 335.07V334.83M270.5 335.23V334.67M273.5 335.06V334.83M276.5 335.23V334.67M278.5 335.14V334.75M281.5 335.12V334.77M284.5 335.16V334.73M286.5 335.23V334.65M289.5 335.1V334.78M292.5 335.07V334.81M295.5 335.15V334.73M297.5 335.09V334.79" stroke="#7a5c42" stroke-width="1.0" fill="none"/><polyline points="54.8,335.02 57.5,335.02 60.2,335.01 62.9,335.01 65.6,335.01 68.3,335.01 70.99,335.01 73.69,335.01 76.39,335.01 79.09,335.01 81.79,335.01 84.49,335.01 87.19,335.01 89.89,335.01 92.59,335 95.28,335 97.98,335 100.68,335 103.38,335 106.08,335 108.78,335 111.48,335 114.18,335 116.88,335 119.58,335 122.27,334.99 124.97,334.99 127.67,334.99 130.37,334.99 133.07,334.99 135.77,334.99 138.47,334.99 141.17,334.99 143.87,334.99 146.57,334.99 149.26,334.99 151.96,334.99 154.66,334.98 157.36,334.98 160.06,334.98 162.76,334.98 165.46,334.98 168.16,334.98 170.86,334.98 173.56,334.98 176.25,334.98 178.95,334.98 181.65,334.98 184.35,334.98 187.05,334.97 189.75,334.97 192.45,334.97 195.15,334.97 197.85,334.97 200.55,334.97 203.25,334.97 205.94,334.97 208.64,334.97 211.34,334.97 214.04,334.97 216.74,334.97 219.44,334.96 222.14,334.96 224.84,334.96 227.54,334.96 230.24,334.96 232.93,334.96 235.63,334.96 238.33,334.96 241.03,334.96 243.73,334.96 246.43,334.96 249.13,334.95 251.83,334.95 254.53,334.95 257.22,334.95 259.92,334.95 262.62,334.95 265.32,334.95 268.02,334.95 270.72,334.95 273.42,334.95 276.12,334.95 278.82,334.95 281.52,334.94 284.21,334.94 286.91,334.94 289.61,334.94 292.31,334.94 295.01,334.94 297.71,334.94" stroke="#7a5c42" stroke-width="1.2" fill="none" stroke-linejoin="round"/></g>
<g clip-path="url(#mainclip)"><path d="M54.5 335.19V335M57.5 335.19V334.99M60.5 335.18V335.01M62.5 335.2V334.98M65.5 335.22V334.97M68.5 335.21V334.97M70.5 335.28V334.9M73.5 335.21V334.97M76.5 335.24V334.93M79.5 335.19V334.98M81.5 335.22V334.96M84.5 335.17V335.01M87.5 335.2V334.97M89.5 335.16V335.01M92.5 335.27V334.9M95.5 335.25V334.92M97.5 335.19V334.98M100.5 335.23V334.93M103.5 335.3V334.86M106.5 335.18V334.99M108.5 335.28V334.88M111.5 335.22V334.94M114.5 335.23V334.93M116.5 335.28V334.88M119.5 335.22V334.94M122.5 335.23V334.92M124.5 335.26V334.9M127.5 335.31V334.85M130.5 335.21V334.95M133.5 335.28V334.87M135.5 335.26V334.89M138.5 335.25V334.9M141.5 335.21V334.94M143.5 335.2V334.94M146.5 335.16V334.99M149.5 335.17V334.98M151.5 335.16V334.98M154.5 335.26V334.88M157.5 335.19V334.96M160.5 335.17V334.97M162.5 335.16V334.98M165.5 335.28V334.86M168.5 335.28V334.86M170.5 335.25V334.89M173.5 335.19V334.95M176.5 335.18V334.95M178.5 335.19V334.95M181.5 335.21V334.92M184.5 335.17V334.96M187.5 335.21V334.92M189.5 335.18V334.95M192.5 335.29V334.84M195.5 335.29V334.84M197.5 335.22V334.9M200.5 335.18V334.95M203.5 335.29V334.84M205.5 335.19V334.94M208.5 335.19V334.93M211.5 335.14V334.98M214.5 335.19V334.92M216.5 335.21V334.91M219.5 335.21V334.9M222.5 335.17V334.95M224.5 335.21V334.9M227.5 335.13V334.98M230.5 335.17V334.94M232.5 335.15V334.97M235.5 335.19V334.92M238.5 335.14V334.97M241.5 335.13V334.97M243.5 335.18V334.93M246.5 335.17V334.94M249.5 335.22V334.89M251.5 335.21V334.89M254.5 335.24V334.86M257.5 335.23V334.87M259.5 335.24V334.86M262.5 335.26V334.84M265.5 335.19V334.91M268.5 335.17V334.92M270.5 335.28V334.82M273.5 335.15V334.95M276.5 335.23V334.86M278.5 335.22V334.87M281.5 335.13V334.96M284.5 335.25V334.84M286.5 335.26V334.83M289.5 335.22V334.87M292.5 335.23V334.85M295.5 335.24V334.84M297.5 335.14V334.94" stroke="#c4924f" stroke-width="1.0" fill="none"/><polyline points="54.8,335.09 57.5,335.09 60.2,335.09 62.9,335.09 65.6,335.09 68.3,335.09 70.99,335.09 73.69,335.09 76.39,335.09 79.09,335.09 81.79,335.09 84.49,335.09 87.19,335.09 89.89,335.09 92.59,335.09 95.28,335.08 97.98,335.08 100.68,335.08 103.38,335.08 106.08,335.08 108.78,335.08 111.48,335.08 114.18,335.08 116.88,335.08 119.58,335.08 122.27,335.08 124.97,335.08 127.67,335.08 130.37,335.08 133.07,335.08 135.77,335.08 138.47,335.08 141.17,335.07 143.87,335.07 146.57,335.07 149.26,335.07 151.96,335.07 154.66,335.07 157.36,335.07 160.06,335.07 162.76,335.07 165.46,335.07 168.16,335.07 170.86,335.07 173.56,335.07 176.25,335.07 178.95,335.07 181.65,335.07 184.35,335.07 187.05,335.07 189.75,335.06 192.45,335.06 195.15,335.06 197.85,335.06 200.55,335.06 203.25,335.06 205.94,335.06 208.64,335.06 211.34,335.06 214.04,335.06 216.74,335.06 219.44,335.06 222.14,335.06 224.84,335.06 227.54,335.06 230.24,335.06 232.93,335.06 235.63,335.05 238.33,335.05 241.03,335.05 243.73,335.05 246.43,335.05 249.13,335.05 251.83,335.05 254.53,335.05 257.22,335.05 259.92,335.05 262.62,335.05 265.32,335.05 268.02,335.05 270.72,335.05 273.42,335.05 276.12,335.05 278.82,335.05 281.52,335.05 284.21,335.04 286.91,335.04 289.61,335.04 292.31,335.04 295.01,335.04 297.71,335.04" stroke="#c4924f" stroke-width="1.2" fill="none" stroke-linejoin="round"/></g>
<g clip-path="url(#mainclip)"><path d="M54.5 335.33V335.06M57.5 335.32V335.07M60.5 335.36V335.02M62.5 335.36V335.03M65.5 335.36V335.02M68.5 335.33V335.05M70.5 335.37V335.01M73.5 335.34V335.04M76.5 335.34V335.04M79.5 335.28V335.1M81.5 335.26V335.12M84.5 335.27V335.11M87.5 335.3V335.08M89.5 335.27V335.11M92.5 335.36V335.02M95.5 335.32V335.05M97.5 335.33V335.04M100.5 335.33V335.04M103.5 335.34V335.03M106.5 335.31V335.06M108.5 335.25V335.12M111.5 335.35V335.02M114.5 335.34V335.02M116.5 335.31V335.05M119.5 335.31V335.05M122.5 335.33V335.03M124.5 335.25V335.11M127.5 335.34V335.02M130.5 335.28V335.08M133.5 335.25V335.11M135.5 335.28V335.08M138.5 335.33V335.02M141.5 335.27V335.09M143.5 335.34V335.02M146.5 335.36V334.99M149.5 335.3V335.05M151.5 335.29V335.06M154.5 335.3V335.05M157.5 335.33V335.02M160.5 335.34V335.01M162.5 335.32V335.03M165.5 335.32V335.03M168.5 335.25V335.1M170.5 335.25V335.09M173.5 335.27V335.07M176.5 335.33V335.01M178.5 335.27V335.07M181.5 335.31V335.03M184.5 335.23V335.1M187.5 335.24V335.1M189.5 335.27V335.07M192.5 335.32V335.02M195.5 335.32V335.01M197.5 335.32V335.01M200.5 335.27V335.06M203.5 335.29V335.03M205.5 335.29V335.04M208.5 335.29V335.04M211.5 335.24V335.08M214.5 335.34V334.98M216.5 335.25V335.07M219.5 335.35V334.97M222.5 335.34V334.98M224.5 335.23V335.09M227.5 335.28V335.04M230.5 335.33V334.99M232.5 335.35V334.97M235.5 335.28V335.04M238.5 335.26V335.06M241.5 335.25V335.07M243.5 335.34V334.97M246.5 335.25V335.06M249.5 335.29V335.02M251.5 335.24V335.07M254.5 335.28V335.02M257.5 335.34V334.97M259.5 335.23V335.07M262.5 335.32V334.98M265.5 335.28V335.02M268.5 335.33V334.97M270.5 335.3V335M273.5 335.24V335.06M276.5 335.33V334.97M278.5 335.27V335.02M281.5 335.21V335.08M284.5 335.21V335.08M286.5 335.27V335.02M289.5 335.27V335.02M292.5 335.25V335.04M295.5 335.23V335.06M297.5 335.25V335.04" stroke="#e8cc94" stroke-width="1.0" fill="none"/><polyline points="54.8,335.2 57.5,335.19 60.2,335.19 62.9,335.19 65.6,335.19 68.3,335.19 70.99,335.19 73.69,335.19 76.39,335.19 79.09,335.19 81.79,335.19 84.49,335.19 87.19,335.19 89.89,335.19 92.59,335.19 95.28,335.19 97.98,335.19 100.68,335.19 103.38,335.19 106.08,335.18 108.78,335.18 111.48,335.18 114.18,335.18 116.88,335.18 119.58,335.18 122.27,335.18 124.97,335.18 127.67,335.18 130.37,335.18 133.07,335.18 135.77,335.18 138.47,335.18 141.17,335.18 143.87,335.18 146.57,335.18 149.26,335.18 151.96,335.17 154.66,335.17 157.36,335.17 160.06,335.17 162.76,335.17 165.46,335.17 168.16,335.17 170.86,335.17 173.56,335.17 176.25,335.17 178.95,335.17 181.65,335.17 184.35,335.17 187.05,335.17 189.75,335.17 192.45,335.17 195.15,335.17 197.85,335.17 200.55,335.16 203.25,335.16 205.94,335.16 208.64,335.16 211.34,335.16 214.04,335.16 216.74,335.16 219.44,335.16 222.14,335.16 224.84,335.16 227.54,335.16 230.24,335.16 232.93,335.16 235.63,335.16 238.33,335.16 241.03,335.16 243.73,335.16 246.43,335.16 249.13,335.15 251.83,335.15 254.53,335.15 257.22,335.15 259.92,335.15 262.62,335.15 265.32,335.15 268.02,335.15 270.72,335.15 273.42,335.15 276.12,335.15 278.82,335.15 281.52,335.15 284.21,335.15 286.91,335.15 289.61,335.15 292.31,335.15 295.01,335.14 297.71,335.14" stroke="#e8cc94" stroke-width="1.2" fill="none" stroke-linejoin="round"/></g>
<g clip-path="url(#mainclip)"><path d="M54.5 335.08V334.18M57.5 334.8V330.88M60.5 334.05V326.51M62.5 331.96V323.49M65.5 332.54V318.82M68.5 332.74V318.1M70.5 332.88V320.01M73.5 332.27V323.69M76.5 332.82V326.22M79.5 333.96V328.66M81.5 334.28V330.38M84.5 334.75V331.7M87.5 335.22V332.51M89.5 335.17V333.33M92.5 335.22V333.61M95.5 335.18V333.98M97.5 335.2V334.07M100.5 335.2V334.17M103.5 335.02V334.45M106.5 335.09V334.48M108.5 335.08V334.59M111.5 335.07V334.6M114.5 335.07V334.61M116.5 335.04V334.64M119.5 335.01V334.67M122.5 335.07V334.61M124.5 335.02V334.65M127.5 335.07V334.6M130.5 335.09V334.59M133.5 335.03V334.65M135.5 335.03V334.65M138.5 335.08V334.59M141.5 335.06V334.61M143.5 335V334.67M146.5 335V334.67M149.5 335V334.67M151.5 335.08V334.6M154.5 335.07V334.61M157.5 335V334.67M160.5 335.07V334.61M162.5 335.08V334.59M165.5 335.05V334.62M168.5 335.02V334.66M170.5 335.04V334.64M173.5 335V334.68M176.5 334.99V334.69M178.5 335.08V334.6M181.5 335.05V334.63M184.5 335.03V334.64M187.5 335.07V334.6M189.5 335.02V334.65M192.5 335.07V334.61M195.5 335.06V334.61M197.5 335V334.67M200.5 335.01V334.67M203.5 335.01V334.67M205.5 335V334.67M208.5 335.04V334.64M211.5 335.01V334.67M214.5 335.02V334.65M216.5 334.99V334.68M219.5 335.07V334.61M222.5 335.01V334.66M224.5 335.02V334.65M227.5 335.03V334.64M230.5 335.06V334.61M232.5 335.02V334.66M235.5 335.06V334.61M238.5 335.02V334.65M241.5 335.03V334.65M243.5 335.03V334.65M246.5 334.98V334.7M249.5 335.02V334.66M251.5 334.99V334.68M254.5 334.98V334.7M257.5 335.05V334.63M259.5 334.99V334.68M262.5 335.02V334.66M265.5 335.04V334.63M268.5 335.03V334.65M270.5 335V334.67M273.5 335.02V334.65M276.5 335.02V334.65M278.5 335.04V334.63M281.5 334.98V334.69M284.5 335.02V334.65M286.5 335V334.68M289.5 335V334.68M292.5 335.04V334.63M295.5 335.02V334.66M297.5 335.02V334.65" stroke="#d4ede8" stroke-width="1.0" fill="none"/><polyline points="54.8,334.63 57.5,332.84 60.2,330.28 62.9,327.73 65.6,325.68 68.3,325.42 70.99,326.45 73.69,327.98 76.39,329.52 79.09,331.31 81.79,332.33 84.49,333.23 87.19,333.87 89.89,334.25 92.59,334.42 95.28,334.58 97.98,334.63 100.68,334.68 103.38,334.73 106.08,334.79 108.78,334.84 111.48,334.84 114.18,334.84 116.88,334.84 119.58,334.84 122.27,334.84 124.97,334.84 127.67,334.84 130.37,334.84 133.07,334.84 135.77,334.84 138.47,334.84 141.17,334.84 143.87,334.84 146.57,334.84 149.26,334.84 151.96,334.84 154.66,334.84 157.36,334.84 160.06,334.84 162.76,334.84 165.46,334.84 168.16,334.84 170.86,334.84 173.56,334.84 176.25,334.84 178.95,334.84 181.65,334.84 184.35,334.84 187.05,334.84 189.75,334.84 192.45,334.84 195.15,334.84 197.85,334.84 200.55,334.84 203.25,334.84 205.94,334.84 208.64,334.84 211.34,334.84 214.04,334.84 216.74,334.84 219.44,334.84 222.14,334.84 224.84,334.84 227.54,334.84 230.24,334.84 232.93,334.84 235.63,334.84 238.33,334.84 241.03,334.84 243.73,334.84 246.43,334.84 249.13,334.84 251.83,334.84 254.53,334.84 257.22,334.84 259.92,334.84 262.62,334.84 265.32,334.84 268.02,334.84 270.72,334.84 273.42,334.84 276.12,334.84 278.82,334.84 281.52,334.84 284.21,334.84 286.91,334.84 289.61,334.84 292.31,334.84 295.01,334.84 297.71,334.84" stroke="#bde2db" stroke-width="1.2" fill="none" stroke-linejoin="round"/></g>
<g clip-path="url(#mainclip)"><path d="M54.5 335.04V333.21M57.5 333.45V324.56M60.5 330.4V312.26M62.5 323.75V301M65.5 321.14V289.29M68.5 318.88V287.97M70.5 323.51V286.92M73.5 323.97V295.67M76.5 321.68V305.63M79.5 326.43V315.72M81.5 329.19V321.66M84.5 330.9V325.58M87.5 332.31V327.74M89.5 333.18V329.44M92.5 333.7V331.22M95.5 333.87V332.33M97.5 334.4V332.71M100.5 334.53V333.15M103.5 334.73V333.51M106.5 334.87V333.76M108.5 334.84V334.17M111.5 334.83V334.21M114.5 334.86V334.22M116.5 334.89V334.23M119.5 334.81V334.34M122.5 334.96V334.23M124.5 334.96V334.27M127.5 334.99V334.27M130.5 334.99V334.3M133.5 334.95V334.38M135.5 334.97V334.4M138.5 334.92V334.44M141.5 335V334.36M143.5 334.91V334.44M146.5 334.91V334.44M149.5 334.92V334.42M151.5 334.91V334.42M154.5 334.94V334.39M157.5 334.89V334.44M160.5 334.88V334.44M162.5 334.9V334.42M165.5 334.89V334.42M168.5 334.92V334.38M170.5 334.87V334.43M173.5 334.99V334.3M176.5 334.95V334.34M178.5 334.88V334.41M181.5 334.89V334.39M184.5 334.9V334.37M187.5 334.9V334.37M189.5 334.86V334.4M192.5 334.97V334.3M195.5 334.99V334.28M197.5 334.91V334.36M200.5 334.92V334.36M203.5 334.86V334.42M205.5 334.87V334.42M208.5 334.9V334.38M211.5 334.89V334.4M214.5 334.97V334.32M216.5 334.88V334.41M219.5 334.86V334.44M222.5 334.99V334.31M224.5 334.93V334.37M227.5 334.88V334.42M230.5 334.93V334.37M232.5 334.86V334.44M235.5 334.93V334.38M238.5 334.99V334.32M241.5 334.98V334.34M243.5 334.96V334.36M246.5 334.9V334.42M249.5 334.91V334.41M251.5 334.89V334.44M254.5 334.97V334.36M257.5 334.94V334.39M259.5 334.97V334.36M262.5 334.91V334.42M265.5 334.9V334.44M268.5 334.97V334.36M270.5 335V334.34M273.5 334.98V334.36M276.5 334.98V334.37M278.5 334.98V334.37M281.5 334.97V334.38M284.5 334.9V334.45M286.5 334.94V334.42M289.5 334.92V334.44M292.5 334.88V334.48M295.5 334.88V334.49M297.5 334.91V334.46" stroke="#73b9ae" stroke-width="1.0" fill="none"/><polyline points="54.8,334.12 57.5,329 60.2,321.33 62.9,312.38 65.6,305.22 68.3,303.42 70.99,305.22 73.69,309.82 76.39,313.66 79.09,321.08 81.79,325.42 84.49,328.24 87.19,330.03 89.89,331.31 92.59,332.46 95.28,333.1 97.98,333.56 100.68,333.84 103.38,334.12 106.08,334.31 108.78,334.5 111.48,334.52 114.18,334.54 116.88,334.56 119.58,334.58 122.27,334.59 124.97,334.61 127.67,334.63 130.37,334.65 133.07,334.67 135.77,334.68 138.47,334.68 141.17,334.68 143.87,334.68 146.57,334.67 149.26,334.67 151.96,334.67 154.66,334.67 157.36,334.66 160.06,334.66 162.76,334.66 165.46,334.66 168.16,334.65 170.86,334.65 173.56,334.65 176.25,334.65 178.95,334.64 181.65,334.64 184.35,334.64 187.05,334.64 189.75,334.63 192.45,334.63 195.15,334.64 197.85,334.64 200.55,334.64 203.25,334.64 205.94,334.64 208.64,334.64 211.34,334.64 214.04,334.64 216.74,334.65 219.44,334.65 222.14,334.65 224.84,334.65 227.54,334.65 230.24,334.65 232.93,334.65 235.63,334.65 238.33,334.66 241.03,334.66 243.73,334.66 246.43,334.66 249.13,334.66 251.83,334.66 254.53,334.66 257.22,334.66 259.92,334.67 262.62,334.67 265.32,334.67 268.02,334.67 270.72,334.67 273.42,334.67 276.12,334.67 278.82,334.67 281.52,334.68 284.21,334.68 286.91,334.68 289.61,334.68 292.31,334.68 295.01,334.68 297.71,334.68" stroke="#4ea89b" stroke-width="1.2" fill="none" stroke-linejoin="round"/></g>
<g clip-path="url(#mainclip)"><path d="M54.5 335.1V333.14M57.5 321.75V303M60.5 278.49V241.38M62.5 262.17V211.67M65.5 262V199.05M68.5 263.53V202.63M70.5 269.16V213.37M73.5 284.29V225.35M76.5 292.91V247.43M79.5 308.26V273.01M81.5 315.03V294.38M84.5 320.83V306.99M87.5 326.61V316.56M89.5 329.54V321.82M92.5 330.82V326.17M95.5 332.07V328.25M97.5 333.02V329.59M100.5 333.43V330.31M103.5 333.72V330.94M106.5 333.93V331.35M108.5 334.14V331.29M111.5 334.16V331.78M114.5 334.65V331.65M116.5 334.56V331.84M119.5 334.57V331.86M122.5 334.62V331.83M124.5 334.72V331.65M127.5 334.97V331.33M130.5 334.47V331.21M133.5 334.34V330.58M135.5 334.18V330.22M138.5 333.96V329.94M141.5 333.87V329.36M143.5 333.44V329.18M146.5 333.32V328.79M149.5 333.16V328.17M151.5 333.06V327.51M154.5 332.75V327.57M157.5 332.52V327.54M160.5 332.28V327.01M162.5 331.79V326.73M165.5 331.84V326.43M168.5 332.22V325.54M170.5 332.06V324.93M173.5 331.57V324.65M176.5 331.89V323.82M178.5 331.82V323.38M181.5 332.09V322.44M184.5 332V322.17M187.5 331.7V322.42M189.5 332.92V321.51M192.5 331.87V322.66M195.5 332.08V322.25M197.5 332.53V322M200.5 331.66V322.66M203.5 332.06V322.37M205.5 331.59V322.94M208.5 332.53V322.41M211.5 332.82V322.48M214.5 332.72V322.83M216.5 333.23V322.63M219.5 332.53V323.44M222.5 332.6V322.85M224.5 332.25V322.94M227.5 332.39V323.32M230.5 332.28V323.68M232.5 332.95V323.27M235.5 333.13V322.94M238.5 332.48V323.07M241.5 333.03V322.93M243.5 332.57V323.65M246.5 333.21V322.91M249.5 332.99V322.98M251.5 333.25V322.61M254.5 333.08V322.99M257.5 332.35V323.62M259.5 332.66V323.2M262.5 333.25V322.61M265.5 332.48V322.97M268.5 332.99V321.84M270.5 332.58V321.75M273.5 332.75V322.44M276.5 333V323.22M278.5 334.15V322.94M281.5 333.21V323.98M284.5 333.06V323.93M286.5 333.36V324.03M289.5 334.01V323.74M292.5 333.18V324.83M295.5 333.68V324.64M297.5 333.82V324.71" stroke="#2f7f75" stroke-width="1.0" fill="none"/><polyline points="54.8,334.12 57.5,312.38 60.2,259.94 62.9,236.92 65.6,230.52 68.3,233.08 70.99,241.27 73.69,254.82 76.39,270.17 79.09,290.63 81.79,304.7 84.49,313.91 87.19,321.59 89.89,325.68 92.59,328.49 95.28,330.16 97.98,331.31 100.68,331.87 103.38,332.33 106.08,332.64 108.78,332.71 111.48,332.97 114.18,333.15 116.88,333.2 119.58,333.21 122.27,333.23 124.97,333.19 127.67,333.15 130.37,332.84 133.07,332.46 135.77,332.2 138.47,331.95 141.17,331.61 143.87,331.31 146.57,331.05 149.26,330.67 151.96,330.28 154.66,330.16 157.36,330.03 160.06,329.64 162.76,329.26 165.46,329.13 168.16,328.88 170.86,328.49 173.56,328.11 176.25,327.85 178.95,327.6 181.65,327.27 184.35,327.09 187.05,327.06 189.75,327.21 192.45,327.27 195.15,327.16 197.85,327.27 200.55,327.16 203.25,327.21 205.94,327.27 208.64,327.47 211.34,327.65 214.04,327.78 216.74,327.93 219.44,327.98 222.14,327.73 224.84,327.6 227.54,327.85 230.24,327.98 232.93,328.11 235.63,328.03 238.33,327.78 241.03,327.98 243.73,328.11 246.43,328.06 249.13,327.98 251.83,327.93 254.53,328.03 257.22,327.98 259.92,327.93 262.62,327.93 265.32,327.73 268.02,327.42 270.72,327.16 273.42,327.6 276.12,328.11 278.82,328.54 281.52,328.6 284.21,328.49 286.91,328.7 289.61,328.88 292.31,329 295.01,329.16 297.71,329.26" stroke="#1c6f66" stroke-width="1.2" fill="none" stroke-linejoin="round"/></g>
<line x1="55" y1="181.5" x2="55" y2="336.2" stroke="#555" stroke-width="1.3"/>
<line x1="54.2" y1="335.6" x2="297.8" y2="335.6" stroke="#555" stroke-width="1.3"/>
<line x1="51.8" y1="335.4" x2="54.8" y2="335.4" stroke="#555" stroke-width="1"/>
<text transform="translate(50.5 339.6) scale(1.04 1)" x="0" y="0" font-size="12" text-anchor="end">0</text>
<line x1="51.8" y1="309.82" x2="54.8" y2="309.82" stroke="#555" stroke-width="1"/>
<text transform="translate(50.5 314.02) scale(1.04 1)" x="0" y="0" font-size="12" text-anchor="end">1000</text>
<line x1="51.8" y1="284.24" x2="54.8" y2="284.24" stroke="#555" stroke-width="1"/>
<text transform="translate(50.5 288.44) scale(1.04 1)" x="0" y="0" font-size="12" text-anchor="end">2000</text>
<line x1="51.8" y1="258.66" x2="54.8" y2="258.66" stroke="#555" stroke-width="1"/>
<text transform="translate(50.5 262.86) scale(1.04 1)" x="0" y="0" font-size="12" text-anchor="end">3000</text>
<line x1="51.8" y1="233.08" x2="54.8" y2="233.08" stroke="#555" stroke-width="1"/>
<text transform="translate(50.5 237.28) scale(1.04 1)" x="0" y="0" font-size="12" text-anchor="end">4000</text>
<line x1="51.8" y1="207.5" x2="54.8" y2="207.5" stroke="#555" stroke-width="1"/>
<text transform="translate(50.5 211.7) scale(1.04 1)" x="0" y="0" font-size="12" text-anchor="end">5000</text>
<line x1="51.8" y1="181.92" x2="54.8" y2="181.92" stroke="#555" stroke-width="1"/>
<text transform="translate(50.5 186.12) scale(1.04 1)" x="0" y="0" font-size="12" text-anchor="end">6000</text>
<line x1="54.8" y1="335.6" x2="54.8" y2="338.6" stroke="#555" stroke-width="1"/>
<text transform="translate(54.8 349.3) scale(1.04 1)" x="0" y="0" font-size="12.2" text-anchor="middle">0</text>
<line x1="81.79" y1="335.6" x2="81.79" y2="338.6" stroke="#555" stroke-width="1"/>
<text transform="translate(81.79 349.3) scale(1.04 1)" x="0" y="0" font-size="12.2" text-anchor="middle">20</text>
<line x1="108.78" y1="335.6" x2="108.78" y2="338.6" stroke="#555" stroke-width="1"/>
<text transform="translate(108.78 349.3) scale(1.04 1)" x="0" y="0" font-size="12.2" text-anchor="middle">40</text>
<line x1="135.77" y1="335.6" x2="135.77" y2="338.6" stroke="#555" stroke-width="1"/>
<text transform="translate(135.77 349.3) scale(1.04 1)" x="0" y="0" font-size="12.2" text-anchor="middle">60</text>
<line x1="162.76" y1="335.6" x2="162.76" y2="338.6" stroke="#555" stroke-width="1"/>
<text transform="translate(162.76 349.3) scale(1.04 1)" x="0" y="0" font-size="12.2" text-anchor="middle">80</text>
<line x1="189.75" y1="335.6" x2="189.75" y2="338.6" stroke="#555" stroke-width="1"/>
<text transform="translate(189.75 349.3) scale(1.04 1)" x="0" y="0" font-size="12.2" text-anchor="middle">100</text>
<line x1="216.74" y1="335.6" x2="216.74" y2="338.6" stroke="#555" stroke-width="1"/>
<text transform="translate(216.74 349.3) scale(1.04 1)" x="0" y="0" font-size="12.2" text-anchor="middle">120</text>
<line x1="243.73" y1="335.6" x2="243.73" y2="338.6" stroke="#555" stroke-width="1"/>
<text transform="translate(243.73 349.3) scale(1.04 1)" x="0" y="0" font-size="12.2" text-anchor="middle">140</text>
<line x1="270.72" y1="335.6" x2="270.72" y2="338.6" stroke="#555" stroke-width="1"/>
<text transform="translate(270.72 349.3) scale(1.04 1)" x="0" y="0" font-size="12.2" text-anchor="middle">160</text>
<line x1="297.71" y1="335.6" x2="297.71" y2="338.6" stroke="#555" stroke-width="1"/>
<text transform="translate(297.71 349.3) scale(1.04 1)" x="0" y="0" font-size="12.2" text-anchor="middle">180</text>
<text transform="translate(177 362) scale(1.04 1)" x="0" y="0" font-size="12.2" text-anchor="middle">Time (min)</text>
<text x="16.6" y="262.4" font-size="12.8" text-anchor="middle" transform="rotate(-90 16.6 262.4)">Photon counts (RLU)</text>
<g clip-path="url(#inclip)"><path d="M111.5 286.22V284.04M113.5 285.79V284.47M116.5 285.98V284.27M118.5 285.78V284.46M121.5 286.47V283.76M123.5 286.6V283.62M126.5 286.72V283.49M129.5 285.86V284.34M131.5 286.5V283.69M134.5 286.43V283.75M136.5 285.83V284.34M139.5 286.68V283.48M141.5 286.77V283.38M144.5 285.9V284.24M146.5 286.75V283.38M149.5 286.1V284.02M151.5 286.2V283.91M154.5 286.78V283.33M156.5 286.59V283.5M159.5 285.81V284.28M161.5 286.12V283.96M164.5 286.21V283.86M166.5 286V284.06M169.5 285.83V284.22M171.5 285.97V284.07M174.5 286.43V283.6M176.5 285.61V284.41M179.5 286.22V283.78M181.5 286.09V283.91M184.5 285.59V284.39M186.5 285.95V284.03M189.5 286.28V283.68M191.5 286.15V283.81M194.5 285.63V284.32M197.5 286.69V283.25M199.5 286.46V283.47M202.5 286.66V283.26M204.5 285.66V284.26M207.5 285.84V284.06M209.5 285.57V284.32M212.5 286.42V283.46M214.5 285.83V284.04M217.5 285.66V284.2M219.5 285.99V283.86M222.5 286.55V283.29M224.5 286.44V283.39M227.5 285.79V284.03M229.5 285.66V284.16M232.5 286.54V283.26M234.5 286.14V283.66M237.5 286.28V283.5M239.5 285.57V284.21M242.5 285.53V284.24M244.5 286.25V283.5M247.5 285.94V283.8M249.5 285.53V284.21M252.5 286.53V283.2M254.5 286.17V283.55M257.5 286.36V283.35M259.5 285.52V284.17M262.5 286.41V283.27M265.5 285.5V284.18M267.5 286.41V283.26M270.5 285.93V283.73M272.5 285.8V283.85M275.5 286.04V283.6M277.5 286.47V283.16M280.5 285.7V283.92M282.5 285.53V284.08M285.5 285.99V283.61M287.5 285.65V283.94" stroke="#7a5c42" stroke-width="1.0" fill="none"/><polyline points="111.4,285.13 113.92,285.13 116.44,285.12 118.96,285.12 121.47,285.11 123.99,285.11 126.51,285.1 129.03,285.1 131.55,285.09 134.07,285.09 136.59,285.09 139.1,285.08 141.62,285.08 144.14,285.07 146.66,285.07 149.18,285.06 151.7,285.06 154.22,285.05 156.73,285.05 159.25,285.04 161.77,285.04 164.29,285.03 166.81,285.03 169.33,285.02 171.85,285.02 174.37,285.01 176.88,285.01 179.4,285 181.92,285 184.44,284.99 186.96,284.99 189.48,284.98 192,284.98 194.51,284.97 197.03,284.97 199.55,284.96 202.07,284.96 204.59,284.96 207.11,284.95 209.63,284.95 212.14,284.94 214.66,284.94 217.18,284.93 219.7,284.93 222.22,284.92 224.74,284.92 227.26,284.91 229.77,284.91 232.29,284.9 234.81,284.9 237.33,284.89 239.85,284.89 242.37,284.88 244.89,284.88 247.4,284.87 249.92,284.87 252.44,284.86 254.96,284.86 257.48,284.85 260,284.85 262.52,284.84 265.03,284.84 267.55,284.83 270.07,284.83 272.59,284.82 275.11,284.82 277.63,284.82 280.15,284.81 282.66,284.81 285.18,284.8 287.7,284.8" stroke="#7a5c42" stroke-width="1.0" fill="none" stroke-linejoin="round"/></g>
<g clip-path="url(#inclip)"><path d="M111.5 286.74V284.45M113.5 286.41V284.79M116.5 286.46V284.73M118.5 286.75V284.43M121.5 286.36V284.81M123.5 286.46V284.71M126.5 286.61V284.55M129.5 286.86V284.29M131.5 286.31V284.84M134.5 286.73V284.41M136.5 286.61V284.52M139.5 286.55V284.58M141.5 286.35V284.78M144.5 286.29V284.82M146.5 286.04V285.07M149.5 286.1V285M151.5 286.04V285.05M154.5 286.62V284.47M156.5 286.2V284.89M159.5 286.11V284.96M161.5 286.04V285.03M164.5 286.7V284.37M166.5 286.72V284.34M169.5 286.54V284.51M171.5 286.2V284.84M174.5 286.16V284.88M176.5 286.2V284.83M179.5 286.35V284.68M181.5 286.08V284.94M184.5 286.33V284.69M186.5 286.17V284.84M189.5 286.77V284.23M191.5 286.78V284.22M194.5 286.4V284.58M197.5 286.14V284.84M199.5 286.76V284.21M202.5 286.19V284.78M204.5 286.22V284.74M207.5 285.91V285.04M209.5 286.24V284.71M212.5 286.32V284.63M214.5 286.34V284.6M217.5 286.07V284.86M219.5 286.33V284.59M222.5 285.9V285.02M224.5 286.12V284.79M227.5 285.96V284.94M229.5 286.23V284.67M232.5 285.92V284.98M234.5 285.9V284.99M237.5 286.14V284.74M239.5 286.07V284.8M242.5 286.37V284.49M244.5 286.32V284.54M247.5 286.51V284.34M249.5 286.43V284.42M252.5 286.48V284.36M254.5 286.61V284.22M257.5 286.19V284.64M259.5 286.13V284.69M262.5 286.7V284.12M265.5 285.97V284.84M267.5 286.46V284.34M270.5 286.39V284.4M272.5 285.87V284.92M275.5 286.55V284.23M277.5 286.6V284.18M280.5 286.36V284.41M282.5 286.45V284.31M285.5 286.52V284.24M287.5 285.93V284.82" stroke="#c4924f" stroke-width="1.0" fill="none"/><polyline points="111.4,285.6 113.92,285.6 116.44,285.59 118.96,285.59 121.47,285.59 123.99,285.58 126.51,285.58 129.03,285.58 131.55,285.57 134.07,285.57 136.59,285.57 139.1,285.56 141.62,285.56 144.14,285.56 146.66,285.55 149.18,285.55 151.7,285.55 154.22,285.55 156.73,285.54 159.25,285.54 161.77,285.54 164.29,285.53 166.81,285.53 169.33,285.53 171.85,285.52 174.37,285.52 176.88,285.52 179.4,285.51 181.92,285.51 184.44,285.51 186.96,285.5 189.48,285.5 192,285.5 194.51,285.49 197.03,285.49 199.55,285.49 202.07,285.48 204.59,285.48 207.11,285.48 209.63,285.47 212.14,285.47 214.66,285.47 217.18,285.46 219.7,285.46 222.22,285.46 224.74,285.45 227.26,285.45 229.77,285.45 232.29,285.45 234.81,285.44 237.33,285.44 239.85,285.44 242.37,285.43 244.89,285.43 247.4,285.43 249.92,285.42 252.44,285.42 254.96,285.42 257.48,285.41 260,285.41 262.52,285.41 265.03,285.4 267.55,285.4 270.07,285.4 272.59,285.39 275.11,285.39 277.63,285.39 280.15,285.38 282.66,285.38 285.18,285.38 287.7,285.37" stroke="#c4924f" stroke-width="1.0" fill="none" stroke-linejoin="round"/></g>
<g clip-path="url(#inclip)"><path d="M111.5 286.54V285.81M113.5 287.11V285.24M116.5 287.07V285.27M118.5 286.89V285.44M121.5 286.91V285.42M123.5 287V285.32M126.5 286.57V285.75M129.5 287.05V285.26M131.5 286.7V285.61M134.5 286.56V285.73M136.5 286.7V285.59M139.5 287.03V285.25M141.5 286.65V285.63M144.5 287.03V285.24M146.5 287.2V285.07M149.5 286.85V285.41M151.5 286.77V285.49M154.5 286.83V285.42M156.5 286.98V285.26M159.5 287.03V285.2M161.5 286.92V285.31M164.5 286.94V285.28M166.5 286.53V285.69M169.5 286.57V285.64M171.5 286.65V285.56M174.5 287V285.2M176.5 286.68V285.51M179.5 286.86V285.32M181.5 286.46V285.72M184.5 286.49V285.68M186.5 286.64V285.53M189.5 286.93V285.23M191.5 286.94V285.21M194.5 286.92V285.22M197.5 286.64V285.5M199.5 286.8V285.33M202.5 286.76V285.36M204.5 286.76V285.36M207.5 286.5V285.61M209.5 287.06V285.04M212.5 286.56V285.54M214.5 287.12V284.98M217.5 287.08V285M219.5 286.41V285.67M222.5 286.73V285.34M224.5 286.99V285.08M227.5 287.09V284.97M229.5 286.71V285.34M232.5 286.58V285.47M234.5 286.53V285.51M237.5 287.06V284.97M239.5 286.53V285.5M242.5 286.79V285.23M244.5 286.47V285.54M247.5 286.75V285.26M249.5 287.05V284.95M252.5 286.46V285.54M254.5 286.95V285.04M257.5 286.72V285.26M259.5 286.99V284.99M262.5 286.86V285.12M265.5 286.51V285.45M267.5 286.99V284.97M270.5 286.69V285.26M272.5 286.35V285.59M275.5 286.33V285.61M277.5 286.68V285.25M280.5 286.65V285.28M282.5 286.54V285.38M285.5 286.42V285.49M287.5 286.56V285.34" stroke="#e8cc94" stroke-width="1.0" fill="none"/><polyline points="111.4,286.18 113.92,286.18 116.44,286.17 118.96,286.17 121.47,286.17 123.99,286.16 126.51,286.16 129.03,286.16 131.55,286.15 134.07,286.15 136.59,286.15 139.1,286.14 141.62,286.14 144.14,286.14 146.66,286.13 149.18,286.13 151.7,286.13 154.22,286.12 156.73,286.12 159.25,286.12 161.77,286.11 164.29,286.11 166.81,286.11 169.33,286.1 171.85,286.1 174.37,286.1 176.88,286.09 179.4,286.09 181.92,286.09 184.44,286.09 186.96,286.08 189.48,286.08 192,286.08 194.51,286.07 197.03,286.07 199.55,286.07 202.07,286.06 204.59,286.06 207.11,286.06 209.63,286.05 212.14,286.05 214.66,286.05 217.18,286.04 219.7,286.04 222.22,286.04 224.74,286.03 227.26,286.03 229.77,286.03 232.29,286.02 234.81,286.02 237.33,286.02 239.85,286.01 242.37,286.01 244.89,286.01 247.4,286 249.92,286 252.44,286 254.96,286 257.48,285.99 260,285.99 262.52,285.99 265.03,285.98 267.55,285.98 270.07,285.98 272.59,285.97 275.11,285.97 277.63,285.97 280.15,285.96 282.66,285.96 285.18,285.96 287.7,285.95" stroke="#e8cc94" stroke-width="1.0" fill="none" stroke-linejoin="round"/></g>
<g clip-path="url(#inclip)"><path d="M111.5 285.61V282.82M113.5 285.54V282.9M116.5 285.51V282.92M118.5 285.36V283.08M121.5 285.18V283.25M123.5 285.53V282.9M126.5 285.27V283.17M129.5 285.53V282.9M131.5 285.63V282.81M134.5 285.3V283.14M136.5 285.3V283.14M139.5 285.61V282.83M141.5 285.48V282.96M144.5 285.16V283.27M146.5 285.14V283.3M149.5 285.15V283.29M151.5 285.57V282.87M154.5 285.51V282.92M156.5 285.14V283.3M159.5 285.52V282.92M161.5 285.6V282.83M164.5 285.42V283.02M166.5 285.25V283.19M169.5 285.35V283.08M171.5 285.12V283.31M174.5 285.05V283.38M176.5 285.58V282.85M179.5 285.4V283.03M181.5 285.33V283.1M184.5 285.55V282.88M186.5 285.28V283.16M189.5 285.51V282.92M191.5 285.49V282.95M194.5 285.15V283.29M197.5 285.17V283.27M199.5 285.19V283.24M202.5 285.16V283.27M204.5 285.34V283.09M207.5 285.17V283.27M209.5 285.25V283.18M212.5 285.09V283.34M214.5 285.51V282.92M217.5 285.21V283.22M219.5 285.26V283.17M222.5 285.33V283.11M224.5 285.5V282.94M227.5 285.24V283.2M229.5 285.5V282.94M232.5 285.28V283.16M234.5 285.29V283.14M237.5 285.28V283.15M239.5 285.02V283.42M242.5 285.24V283.2M244.5 285.1V283.34M247.5 285V283.43M249.5 285.42V283.02M252.5 285.09V283.35M254.5 285.24V283.19M257.5 285.37V283.06M259.5 285.28V283.15M262.5 285.16V283.27M265.5 285.26V283.18M267.5 285.28V283.16M270.5 285.39V283.04M272.5 285.04V283.39M275.5 285.27V283.16M277.5 285.11V283.32M280.5 285.12V283.31M282.5 285.37V283.06M285.5 285.24V283.2M287.5 285.26V283.17" stroke="#d4ede8" stroke-width="1.0" fill="none"/><polyline points="111.4,284.22 113.92,284.22 116.44,284.22 118.96,284.22 121.47,284.22 123.99,284.22 126.51,284.22 129.03,284.22 131.55,284.22 134.07,284.22 136.59,284.22 139.1,284.22 141.62,284.22 144.14,284.22 146.66,284.22 149.18,284.22 151.7,284.22 154.22,284.22 156.73,284.22 159.25,284.22 161.77,284.22 164.29,284.22 166.81,284.22 169.33,284.22 171.85,284.22 174.37,284.22 176.88,284.22 179.4,284.22 181.92,284.22 184.44,284.22 186.96,284.22 189.48,284.22 192,284.22 194.51,284.22 197.03,284.22 199.55,284.22 202.07,284.22 204.59,284.22 207.11,284.22 209.63,284.22 212.14,284.22 214.66,284.22 217.18,284.22 219.7,284.22 222.22,284.22 224.74,284.22 227.26,284.22 229.77,284.22 232.29,284.22 234.81,284.22 237.33,284.22 239.85,284.22 242.37,284.22 244.89,284.22 247.4,284.22 249.92,284.22 252.44,284.22 254.96,284.22 257.48,284.22 260,284.22 262.52,284.22 265.03,284.22 267.55,284.22 270.07,284.22 272.59,284.22 275.11,284.22 277.63,284.22 280.15,284.22 282.66,284.22 285.18,284.22 287.7,284.22" stroke="#bde2db" stroke-width="1.0" fill="none" stroke-linejoin="round"/></g>
<g clip-path="url(#inclip)"><path d="M111.5 284.24V280.44M113.5 284.18V280.69M116.5 284.37V280.71M118.5 284.52V280.76M121.5 284.08V281.41M123.5 284.9V280.78M126.5 284.89V280.99M129.5 285.07V281.02M131.5 285.1V281.19M134.5 284.86V281.64M136.5 284.96V281.74M139.5 284.69V281.98M141.5 285.12V281.52M144.5 284.62V281.99M146.5 284.61V281.98M149.5 284.71V281.85M151.5 284.65V281.87M154.5 284.78V281.72M156.5 284.52V281.94M159.5 284.46V281.98M161.5 284.57V281.84M164.5 284.51V281.87M166.5 284.71V281.64M169.5 284.41V281.91M171.5 285.09V281.2M174.5 284.86V281.41M176.5 284.46V281.78M179.5 284.53V281.68M181.5 284.59V281.59M184.5 284.58V281.57M186.5 284.37V281.75M189.5 284.96V281.18M191.5 285.07V281.08M194.5 284.65V281.51M197.5 284.67V281.51M199.5 284.36V281.83M202.5 284.37V281.83M204.5 284.57V281.65M207.5 284.51V281.72M209.5 284.96V281.29M212.5 284.44V281.83M214.5 284.33V281.95M217.5 285.06V281.23M219.5 284.73V281.57M222.5 284.44V281.88M224.5 284.75V281.58M227.5 284.36V282M229.5 284.75V281.62M232.5 285.1V281.28M234.5 285.01V281.39M237.5 284.88V281.53M239.5 284.55V281.87M242.5 284.64V281.8M244.5 284.49V281.96M247.5 284.95V281.51M249.5 284.77V281.71M252.5 284.96V281.53M254.5 284.63V281.88M257.5 284.55V281.97M259.5 284.99V281.55M262.5 285.13V281.43M265.5 285.03V281.54M267.5 285V281.59M270.5 285.01V281.59M272.5 284.95V281.66M275.5 284.58V282.05M277.5 284.8V281.84M280.5 284.68V281.97M282.5 284.45V282.22M285.5 284.45V282.23M287.5 284.64V282.06" stroke="#73b9ae" stroke-width="1.0" fill="none"/><polyline points="111.4,282.34 113.92,282.44 116.44,282.54 118.96,282.64 121.47,282.74 123.99,282.84 126.51,282.94 129.03,283.05 131.55,283.15 134.07,283.25 136.59,283.35 139.1,283.33 141.62,283.32 144.14,283.31 146.66,283.29 149.18,283.28 151.7,283.26 154.22,283.25 156.73,283.23 159.25,283.22 161.77,283.2 164.29,283.19 166.81,283.18 169.33,283.16 171.85,283.15 174.37,283.13 176.88,283.12 179.4,283.1 181.92,283.09 184.44,283.07 186.96,283.06 189.48,283.07 192,283.07 194.51,283.08 197.03,283.09 199.55,283.1 202.07,283.1 204.59,283.11 207.11,283.12 209.63,283.13 212.14,283.13 214.66,283.14 217.18,283.15 219.7,283.15 222.22,283.16 224.74,283.17 227.26,283.18 229.77,283.18 232.29,283.19 234.81,283.2 237.33,283.2 239.85,283.21 242.37,283.22 244.89,283.23 247.4,283.23 249.92,283.24 252.44,283.25 254.96,283.26 257.48,283.26 260,283.27 262.52,283.28 265.03,283.28 267.55,283.29 270.07,283.3 272.59,283.31 275.11,283.31 277.63,283.32 280.15,283.33 282.66,283.33 285.18,283.34 287.7,283.35" stroke="#4ea89b" stroke-width="1.0" fill="none" stroke-linejoin="round"/></g>
<g clip-path="url(#inclip)"><path d="M111.5 280.27V264.15M113.5 280.36V266.95M116.5 283.15V266.18M118.5 282.65V267.27M121.5 282.71V267.36M123.5 282.99V267.22M126.5 283.58V266.19M129.5 284.94V264.4M131.5 282.15V263.72M134.5 281.38V260.14M136.5 280.53V258.1M139.5 279.23V256.51M141.5 278.72V253.26M144.5 276.3V252.21M146.5 275.61V250M149.5 274.75V246.52M151.5 274.16V242.77M154.5 272.38V243.1M156.5 271.12V242.92M159.5 269.76V239.94M161.5 266.98V238.37M164.5 267.24V236.67M166.5 269.41V231.61M169.5 268.5V228.18M171.5 265.72V226.62M174.5 267.55V221.9M176.5 267.15V219.41M179.5 268.68V214.11M181.5 268.16V212.6M184.5 266.46V214.01M186.5 273.37V208.84M189.5 267.41V215.38M191.5 268.61V213.02M194.5 271.19V211.6M197.5 266.27V215.36M199.5 268.52V213.69M202.5 265.84V216.95M204.5 271.15V213.96M207.5 272.8V214.33M209.5 272.26V216.32M212.5 275.12V215.19M214.5 271.15V219.74M217.5 271.56V216.43M219.5 269.61V216.94M222.5 270.38V219.07M224.5 269.78V221.11M227.5 273.55V218.79M229.5 274.55V216.92M232.5 270.89V217.69M234.5 274.02V216.88M237.5 271.41V220.93M239.5 275V216.76M242.5 273.75V217.14M244.5 275.25V215.06M247.5 274.26V217.21M249.5 270.14V220.75M252.5 271.89V218.42M254.5 275.26V215.05M257.5 270.9V217.1M259.5 273.8V210.73M262.5 271.44V210.19M265.5 272.44V214.11M267.5 273.85V218.49M270.5 280.35V216.91M272.5 275.01V222.82M275.5 274.16V222.52M277.5 275.87V223.12M280.5 279.56V221.45M282.5 274.86V227.6M285.5 277.65V226.55M287.5 278.44V226.92" stroke="#56a498" stroke-width="1.1" fill="none"/><polyline points="111.4,272.21 113.92,273.66 116.44,274.67 118.96,274.96 121.47,275.03 123.99,275.1 126.51,274.89 129.03,274.67 131.55,272.93 134.07,270.76 136.59,269.32 139.1,267.87 141.62,265.99 144.14,264.25 146.66,262.81 149.18,260.64 151.7,258.47 154.22,257.74 156.73,257.02 159.25,254.85 161.77,252.68 164.29,251.96 166.81,250.51 169.33,248.34 171.85,246.17 174.37,244.72 176.88,243.28 179.4,241.39 181.92,240.38 184.44,240.24 186.96,241.11 189.48,241.39 192,240.82 194.51,241.39 197.03,240.82 199.55,241.11 202.07,241.39 204.59,242.55 207.11,243.56 209.63,244.29 212.14,245.16 214.66,245.45 217.18,244 219.7,243.28 222.22,244.72 224.74,245.45 227.26,246.17 229.77,245.74 232.29,244.29 234.81,245.45 237.33,246.17 239.85,245.88 242.37,245.45 244.89,245.16 247.4,245.74 249.92,245.45 252.44,245.16 254.96,245.16 257.48,244 260,242.26 262.52,240.82 265.03,243.28 267.55,246.17 270.07,248.63 272.59,248.92 275.11,248.34 277.63,249.5 280.15,250.51 282.66,251.23 285.18,252.1 287.7,252.68" stroke="#1c6f66" stroke-width="1.3" fill="none" stroke-linejoin="round"/></g>
<line x1="111.4" y1="178.5" x2="111.4" y2="288" stroke="#222" stroke-width="0.9"/>
<line x1="111" y1="287.5" x2="287.8" y2="287.5" stroke="#222" stroke-width="0.9"/>
<line x1="109" y1="287.4" x2="111.4" y2="287.4" stroke="#222" stroke-width="0.8"/>
<text transform="translate(108.4 290.3) scale(1.04 1)" x="0" y="0" font-size="8.2" text-anchor="end">0</text>
<line x1="109" y1="265.7" x2="111.4" y2="265.7" stroke="#222" stroke-width="0.8"/>
<text transform="translate(108.4 268.6) scale(1.04 1)" x="0" y="0" font-size="8.2" text-anchor="end">150</text>
<line x1="109" y1="244" x2="111.4" y2="244" stroke="#222" stroke-width="0.8"/>
<text transform="translate(108.4 246.9) scale(1.04 1)" x="0" y="0" font-size="8.2" text-anchor="end">300</text>
<line x1="109" y1="222.3" x2="111.4" y2="222.3" stroke="#222" stroke-width="0.8"/>
<text transform="translate(108.4 225.2) scale(1.04 1)" x="0" y="0" font-size="8.2" text-anchor="end">450</text>
<line x1="109" y1="200.6" x2="111.4" y2="200.6" stroke="#222" stroke-width="0.8"/>
<text transform="translate(108.4 203.5) scale(1.04 1)" x="0" y="0" font-size="8.2" text-anchor="end">600</text>
<line x1="109" y1="178.9" x2="111.4" y2="178.9" stroke="#222" stroke-width="0.8"/>
<text transform="translate(108.4 181.8) scale(1.04 1)" x="0" y="0" font-size="8.2" text-anchor="end">750</text>
<line x1="111.4" y1="287.5" x2="111.4" y2="289.5" stroke="#222" stroke-width="0.8"/>
<text x="111.4" y="297.5" font-size="10" text-anchor="middle">40</text>
<line x1="136.59" y1="287.5" x2="136.59" y2="289.5" stroke="#222" stroke-width="0.8"/>
<text x="136.59" y="297.5" font-size="10" text-anchor="middle">60</text>
<line x1="161.77" y1="287.5" x2="161.77" y2="289.5" stroke="#222" stroke-width="0.8"/>
<text x="161.77" y="297.5" font-size="10" text-anchor="middle">80</text>
<line x1="186.96" y1="287.5" x2="186.96" y2="289.5" stroke="#222" stroke-width="0.8"/>
<text x="186.96" y="297.5" font-size="10" text-anchor="middle">100</text>
<line x1="212.14" y1="287.5" x2="212.14" y2="289.5" stroke="#222" stroke-width="0.8"/>
<text x="212.14" y="297.5" font-size="10" text-anchor="middle">120</text>
<line x1="237.33" y1="287.5" x2="237.33" y2="289.5" stroke="#222" stroke-width="0.8"/>
<text x="237.33" y="297.5" font-size="10" text-anchor="middle">140</text>
<line x1="262.52" y1="287.5" x2="262.52" y2="289.5" stroke="#222" stroke-width="0.8"/>
<text x="262.52" y="297.5" font-size="10" text-anchor="middle">160</text>
<line x1="287.7" y1="287.5" x2="287.7" y2="289.5" stroke="#222" stroke-width="0.8"/>
<text x="287.7" y="297.5" font-size="10" text-anchor="middle">180</text>
<line x1="305.7" y1="263.7" x2="312.2" y2="263.7" stroke="#7a5c42" stroke-width="2"/>
<line x1="308.9" y1="259.2" x2="308.9" y2="268.2" stroke="#7a5c42" stroke-width="2"/>
<text transform="translate(314.5 266.8) scale(1.03 1)" x="0" y="0" font-size="11">Control</text>
<text transform="translate(354.9 267) scale(0.9 1)" x="0" y="0" font-size="11.8">(</text>
<g><line x1="367.26" y1="263.4" x2="370.91" y2="263.4" stroke="#2e2e2e" stroke-width="0.85"/><line x1="366.48" y1="265.28" x2="369.06" y2="267.86" stroke="#2e2e2e" stroke-width="0.85"/><line x1="364.6" y1="266.06" x2="364.6" y2="269.71" stroke="#2e2e2e" stroke-width="0.85"/><line x1="362.72" y1="265.28" x2="360.14" y2="267.86" stroke="#2e2e2e" stroke-width="0.85"/><line x1="361.94" y1="263.4" x2="358.29" y2="263.4" stroke="#2e2e2e" stroke-width="0.85"/><line x1="362.72" y1="261.52" x2="360.14" y2="258.94" stroke="#2e2e2e" stroke-width="0.85"/><line x1="364.6" y1="260.74" x2="364.6" y2="257.09" stroke="#2e2e2e" stroke-width="0.85"/><line x1="366.48" y1="261.52" x2="369.06" y2="258.94" stroke="#2e2e2e" stroke-width="0.85"/><circle cx="364.6" cy="263.4" r="1.91" fill="#fff" stroke="#222" stroke-width="0.94"/></g>
<g><line x1="383.96" y1="263.4" x2="387.61" y2="263.4" stroke="#2e2e2e" stroke-width="0.85"/><line x1="383.18" y1="265.28" x2="385.76" y2="267.86" stroke="#2e2e2e" stroke-width="0.85"/><line x1="381.3" y1="266.06" x2="381.3" y2="269.71" stroke="#2e2e2e" stroke-width="0.85"/><line x1="379.42" y1="265.28" x2="376.84" y2="267.86" stroke="#2e2e2e" stroke-width="0.85"/><line x1="378.64" y1="263.4" x2="374.99" y2="263.4" stroke="#2e2e2e" stroke-width="0.85"/><line x1="379.42" y1="261.52" x2="376.84" y2="258.94" stroke="#2e2e2e" stroke-width="0.85"/><line x1="381.3" y1="260.74" x2="381.3" y2="257.09" stroke="#2e2e2e" stroke-width="0.85"/><line x1="383.18" y1="261.52" x2="385.76" y2="258.94" stroke="#2e2e2e" stroke-width="0.85"/><circle cx="381.3" cy="263.4" r="1.91" fill="#fff" stroke="#222" stroke-width="0.94"/></g>
<line x1="374.78" y1="257.42" x2="371.12" y2="269.38" stroke="#111" stroke-width="0.9959999999999999"/>
<text transform="translate(387.2 267) scale(0.9 1)" x="0" y="0" font-size="11.8">)</text>
<line x1="305.7" y1="275.6" x2="312.2" y2="275.6" stroke="#c4924f" stroke-width="2"/>
<line x1="308.9" y1="271.1" x2="308.9" y2="280.1" stroke="#c4924f" stroke-width="2"/>
<text transform="translate(314.5 280.2) scale(1.03 1)" x="0" y="0" font-size="11">Control</text>
<text transform="translate(354.9 280.4) scale(0.9 1)" x="0" y="0" font-size="11.8">(</text>
<g><line x1="367.26" y1="276.6" x2="370.91" y2="276.6" stroke="#2e2e2e" stroke-width="0.85"/><line x1="366.48" y1="278.48" x2="369.06" y2="281.06" stroke="#2e2e2e" stroke-width="0.85"/><line x1="364.6" y1="279.26" x2="364.6" y2="282.91" stroke="#2e2e2e" stroke-width="0.85"/><line x1="362.72" y1="278.48" x2="360.14" y2="281.06" stroke="#2e2e2e" stroke-width="0.85"/><line x1="361.94" y1="276.6" x2="358.29" y2="276.6" stroke="#2e2e2e" stroke-width="0.85"/><line x1="362.72" y1="274.72" x2="360.14" y2="272.14" stroke="#2e2e2e" stroke-width="0.85"/><line x1="364.6" y1="273.94" x2="364.6" y2="270.29" stroke="#2e2e2e" stroke-width="0.85"/><line x1="366.48" y1="274.72" x2="369.06" y2="272.14" stroke="#2e2e2e" stroke-width="0.85"/><circle cx="364.6" cy="276.6" r="1.91" fill="#fff" stroke="#222" stroke-width="0.94"/></g>
<g><line x1="383.96" y1="276.6" x2="387.61" y2="276.6" stroke="#2e2e2e" stroke-width="0.85"/><line x1="383.18" y1="278.48" x2="385.76" y2="281.06" stroke="#2e2e2e" stroke-width="0.85"/><line x1="381.3" y1="279.26" x2="381.3" y2="282.91" stroke="#2e2e2e" stroke-width="0.85"/><line x1="379.42" y1="278.48" x2="376.84" y2="281.06" stroke="#2e2e2e" stroke-width="0.85"/><line x1="378.64" y1="276.6" x2="374.99" y2="276.6" stroke="#2e2e2e" stroke-width="0.85"/><line x1="379.42" y1="274.72" x2="376.84" y2="272.14" stroke="#2e2e2e" stroke-width="0.85"/><line x1="381.3" y1="273.94" x2="381.3" y2="270.29" stroke="#2e2e2e" stroke-width="0.85"/><line x1="383.18" y1="274.72" x2="385.76" y2="272.14" stroke="#2e2e2e" stroke-width="0.85"/><circle cx="381.3" cy="276.6" r="2.38" fill="#000"/></g>
<line x1="374.78" y1="270.62" x2="371.12" y2="282.58" stroke="#111" stroke-width="0.9959999999999999"/>
<text transform="translate(387.2 280.4) scale(0.9 1)" x="0" y="0" font-size="11.8">)</text>
<line x1="305.7" y1="287.2" x2="312.2" y2="287.2" stroke="#e8cc94" stroke-width="2"/>
<line x1="308.9" y1="282.7" x2="308.9" y2="291.7" stroke="#e8cc94" stroke-width="2"/>
<text transform="translate(314.5 291.1) scale(1.03 1)" x="0" y="0" font-size="11">Control</text>
<text transform="translate(354.9 291.3) scale(0.9 1)" x="0" y="0" font-size="11.8">(</text>
<g><line x1="367.26" y1="289" x2="370.91" y2="289" stroke="#2e2e2e" stroke-width="0.85"/><line x1="366.48" y1="290.88" x2="369.06" y2="293.46" stroke="#2e2e2e" stroke-width="0.85"/><line x1="364.6" y1="291.66" x2="364.6" y2="295.31" stroke="#2e2e2e" stroke-width="0.85"/><line x1="362.72" y1="290.88" x2="360.14" y2="293.46" stroke="#2e2e2e" stroke-width="0.85"/><line x1="361.94" y1="289" x2="358.29" y2="289" stroke="#2e2e2e" stroke-width="0.85"/><line x1="362.72" y1="287.12" x2="360.14" y2="284.54" stroke="#2e2e2e" stroke-width="0.85"/><line x1="364.6" y1="286.34" x2="364.6" y2="282.69" stroke="#2e2e2e" stroke-width="0.85"/><line x1="366.48" y1="287.12" x2="369.06" y2="284.54" stroke="#2e2e2e" stroke-width="0.85"/><circle cx="364.6" cy="289" r="2.38" fill="#000"/></g>
<g><line x1="383.96" y1="289" x2="387.61" y2="289" stroke="#2e2e2e" stroke-width="0.85"/><line x1="383.18" y1="290.88" x2="385.76" y2="293.46" stroke="#2e2e2e" stroke-width="0.85"/><line x1="381.3" y1="291.66" x2="381.3" y2="295.31" stroke="#2e2e2e" stroke-width="0.85"/><line x1="379.42" y1="290.88" x2="376.84" y2="293.46" stroke="#2e2e2e" stroke-width="0.85"/><line x1="378.64" y1="289" x2="374.99" y2="289" stroke="#2e2e2e" stroke-width="0.85"/><line x1="379.42" y1="287.12" x2="376.84" y2="284.54" stroke="#2e2e2e" stroke-width="0.85"/><line x1="381.3" y1="286.34" x2="381.3" y2="282.69" stroke="#2e2e2e" stroke-width="0.85"/><line x1="383.18" y1="287.12" x2="385.76" y2="284.54" stroke="#2e2e2e" stroke-width="0.85"/><circle cx="381.3" cy="289" r="2.38" fill="#000"/></g>
<line x1="374.78" y1="283.02" x2="371.12" y2="294.98" stroke="#111" stroke-width="0.9959999999999999"/>
<text transform="translate(387.2 291.3) scale(0.9 1)" x="0" y="0" font-size="11.8">)</text>
<line x1="305.7" y1="299.3" x2="312.2" y2="299.3" stroke="#1c6f66" stroke-width="2"/>
<line x1="308.9" y1="294.8" x2="308.9" y2="303.8" stroke="#1c6f66" stroke-width="2"/>
<text transform="translate(314.5 303.9) scale(1.03 1)" x="0" y="0" font-size="11">flg22</text>
<text transform="translate(343.6 304.1) scale(0.9 1)" x="0" y="0" font-size="11.8">(</text>
<g><line x1="355.96" y1="301.3" x2="359.61" y2="301.3" stroke="#2e2e2e" stroke-width="0.85"/><line x1="355.18" y1="303.18" x2="357.76" y2="305.76" stroke="#2e2e2e" stroke-width="0.85"/><line x1="353.3" y1="303.96" x2="353.3" y2="307.61" stroke="#2e2e2e" stroke-width="0.85"/><line x1="351.42" y1="303.18" x2="348.84" y2="305.76" stroke="#2e2e2e" stroke-width="0.85"/><line x1="350.64" y1="301.3" x2="346.99" y2="301.3" stroke="#2e2e2e" stroke-width="0.85"/><line x1="351.42" y1="299.42" x2="348.84" y2="296.84" stroke="#2e2e2e" stroke-width="0.85"/><line x1="353.3" y1="298.64" x2="353.3" y2="294.99" stroke="#2e2e2e" stroke-width="0.85"/><line x1="355.18" y1="299.42" x2="357.76" y2="296.84" stroke="#2e2e2e" stroke-width="0.85"/><circle cx="353.3" cy="301.3" r="1.91" fill="#fff" stroke="#222" stroke-width="0.94"/></g>
<g><line x1="372.66" y1="301.3" x2="376.31" y2="301.3" stroke="#2e2e2e" stroke-width="0.85"/><line x1="371.88" y1="303.18" x2="374.46" y2="305.76" stroke="#2e2e2e" stroke-width="0.85"/><line x1="370" y1="303.96" x2="370" y2="307.61" stroke="#2e2e2e" stroke-width="0.85"/><line x1="368.12" y1="303.18" x2="365.54" y2="305.76" stroke="#2e2e2e" stroke-width="0.85"/><line x1="367.34" y1="301.3" x2="363.69" y2="301.3" stroke="#2e2e2e" stroke-width="0.85"/><line x1="368.12" y1="299.42" x2="365.54" y2="296.84" stroke="#2e2e2e" stroke-width="0.85"/><line x1="370" y1="298.64" x2="370" y2="294.99" stroke="#2e2e2e" stroke-width="0.85"/><line x1="371.88" y1="299.42" x2="374.46" y2="296.84" stroke="#2e2e2e" stroke-width="0.85"/><circle cx="370" cy="301.3" r="1.91" fill="#fff" stroke="#222" stroke-width="0.94"/></g>
<line x1="363.48" y1="295.32" x2="359.82" y2="307.28" stroke="#111" stroke-width="0.9959999999999999"/>
<text transform="translate(376.2 304.1) scale(0.9 1)" x="0" y="0" font-size="11.8">)</text>
<line x1="305.7" y1="311.1" x2="312.2" y2="311.1" stroke="#4ea89b" stroke-width="2"/>
<line x1="308.9" y1="306.6" x2="308.9" y2="315.6" stroke="#4ea89b" stroke-width="2"/>
<text transform="translate(314.5 315.4) scale(1.03 1)" x="0" y="0" font-size="11">flg22</text>
<text transform="translate(343.6 315.6) scale(0.9 1)" x="0" y="0" font-size="11.8">(</text>
<g><line x1="355.96" y1="313.6" x2="359.61" y2="313.6" stroke="#2e2e2e" stroke-width="0.85"/><line x1="355.18" y1="315.48" x2="357.76" y2="318.06" stroke="#2e2e2e" stroke-width="0.85"/><line x1="353.3" y1="316.26" x2="353.3" y2="319.91" stroke="#2e2e2e" stroke-width="0.85"/><line x1="351.42" y1="315.48" x2="348.84" y2="318.06" stroke="#2e2e2e" stroke-width="0.85"/><line x1="350.64" y1="313.6" x2="346.99" y2="313.6" stroke="#2e2e2e" stroke-width="0.85"/><line x1="351.42" y1="311.72" x2="348.84" y2="309.14" stroke="#2e2e2e" stroke-width="0.85"/><line x1="353.3" y1="310.94" x2="353.3" y2="307.29" stroke="#2e2e2e" stroke-width="0.85"/><line x1="355.18" y1="311.72" x2="357.76" y2="309.14" stroke="#2e2e2e" stroke-width="0.85"/><circle cx="353.3" cy="313.6" r="1.91" fill="#fff" stroke="#222" stroke-width="0.94"/></g>
<g><line x1="372.66" y1="313.6" x2="376.31" y2="313.6" stroke="#2e2e2e" stroke-width="0.85"/><line x1="371.88" y1="315.48" x2="374.46" y2="318.06" stroke="#2e2e2e" stroke-width="0.85"/><line x1="370" y1="316.26" x2="370" y2="319.91" stroke="#2e2e2e" stroke-width="0.85"/><line x1="368.12" y1="315.48" x2="365.54" y2="318.06" stroke="#2e2e2e" stroke-width="0.85"/><line x1="367.34" y1="313.6" x2="363.69" y2="313.6" stroke="#2e2e2e" stroke-width="0.85"/><line x1="368.12" y1="311.72" x2="365.54" y2="309.14" stroke="#2e2e2e" stroke-width="0.85"/><line x1="370" y1="310.94" x2="370" y2="307.29" stroke="#2e2e2e" stroke-width="0.85"/><line x1="371.88" y1="311.72" x2="374.46" y2="309.14" stroke="#2e2e2e" stroke-width="0.85"/><circle cx="370" cy="313.6" r="2.38" fill="#000"/></g>
<line x1="363.48" y1="307.62" x2="359.82" y2="319.58" stroke="#111" stroke-width="0.9959999999999999"/>
<text transform="translate(376.2 315.6) scale(0.9 1)" x="0" y="0" font-size="11.8">)</text>
<line x1="305.7" y1="323.3" x2="312.2" y2="323.3" stroke="#cfe9e5" stroke-width="2"/>
<line x1="308.9" y1="318.8" x2="308.9" y2="327.8" stroke="#cfe9e5" stroke-width="2"/>
<text transform="translate(314.5 327.3) scale(1.03 1)" x="0" y="0" font-size="11">flg22</text>
<text transform="translate(343.6 327.5) scale(0.9 1)" x="0" y="0" font-size="11.8">(</text>
<g><line x1="355.96" y1="325.6" x2="359.61" y2="325.6" stroke="#2e2e2e" stroke-width="0.85"/><line x1="355.18" y1="327.48" x2="357.76" y2="330.06" stroke="#2e2e2e" stroke-width="0.85"/><line x1="353.3" y1="328.26" x2="353.3" y2="331.91" stroke="#2e2e2e" stroke-width="0.85"/><line x1="351.42" y1="327.48" x2="348.84" y2="330.06" stroke="#2e2e2e" stroke-width="0.85"/><line x1="350.64" y1="325.6" x2="346.99" y2="325.6" stroke="#2e2e2e" stroke-width="0.85"/><line x1="351.42" y1="323.72" x2="348.84" y2="321.14" stroke="#2e2e2e" stroke-width="0.85"/><line x1="353.3" y1="322.94" x2="353.3" y2="319.29" stroke="#2e2e2e" stroke-width="0.85"/><line x1="355.18" y1="323.72" x2="357.76" y2="321.14" stroke="#2e2e2e" stroke-width="0.85"/><circle cx="353.3" cy="325.6" r="2.38" fill="#000"/></g>
<g><line x1="372.66" y1="325.6" x2="376.31" y2="325.6" stroke="#2e2e2e" stroke-width="0.85"/><line x1="371.88" y1="327.48" x2="374.46" y2="330.06" stroke="#2e2e2e" stroke-width="0.85"/><line x1="370" y1="328.26" x2="370" y2="331.91" stroke="#2e2e2e" stroke-width="0.85"/><line x1="368.12" y1="327.48" x2="365.54" y2="330.06" stroke="#2e2e2e" stroke-width="0.85"/><line x1="367.34" y1="325.6" x2="363.69" y2="325.6" stroke="#2e2e2e" stroke-width="0.85"/><line x1="368.12" y1="323.72" x2="365.54" y2="321.14" stroke="#2e2e2e" stroke-width="0.85"/><line x1="370" y1="322.94" x2="370" y2="319.29" stroke="#2e2e2e" stroke-width="0.85"/><line x1="371.88" y1="323.72" x2="374.46" y2="321.14" stroke="#2e2e2e" stroke-width="0.85"/><circle cx="370" cy="325.6" r="2.38" fill="#000"/></g>
<line x1="363.48" y1="319.62" x2="359.82" y2="331.58" stroke="#111" stroke-width="0.9959999999999999"/>
<text transform="translate(376.2 327.5) scale(0.9 1)" x="0" y="0" font-size="11.8">)</text>
<line x1="53" y1="419.4" x2="53" y2="569.3" stroke="#000" stroke-width="1.5"/>
<line x1="47" y1="568.6" x2="233" y2="568.6" stroke="#000" stroke-width="1.5"/>
<line x1="47" y1="568.6" x2="53" y2="568.6" stroke="#000" stroke-width="1.3"/>
<text transform="translate(45.4 572.9) scale(1.04 1)" x="0" y="0" font-size="12.2" text-anchor="end">0</text>
<line x1="50" y1="550" x2="53" y2="550" stroke="#000" stroke-width="1.3"/>
<line x1="47" y1="531.4" x2="53" y2="531.4" stroke="#000" stroke-width="1.3"/>
<text transform="translate(45.4 535.7) scale(1.04 1)" x="0" y="0" font-size="12.2" text-anchor="end">20</text>
<line x1="50" y1="512.8" x2="53" y2="512.8" stroke="#000" stroke-width="1.3"/>
<line x1="47" y1="494.2" x2="53" y2="494.2" stroke="#000" stroke-width="1.3"/>
<text transform="translate(45.4 498.5) scale(1.04 1)" x="0" y="0" font-size="12.2" text-anchor="end">40</text>
<line x1="50" y1="475.6" x2="53" y2="475.6" stroke="#000" stroke-width="1.3"/>
<line x1="47" y1="457" x2="53" y2="457" stroke="#000" stroke-width="1.3"/>
<text transform="translate(45.4 461.3) scale(1.04 1)" x="0" y="0" font-size="12.2" text-anchor="end">60</text>
<line x1="50" y1="438.4" x2="53" y2="438.4" stroke="#000" stroke-width="1.3"/>
<line x1="47" y1="419.8" x2="53" y2="419.8" stroke="#000" stroke-width="1.3"/>
<text transform="translate(45.4 424.1) scale(1.04 1)" x="0" y="0" font-size="12.2" text-anchor="end">80</text>
<line x1="96" y1="568.6" x2="96" y2="574.2" stroke="#000" stroke-width="1.5"/>
<line x1="189.3" y1="568.6" x2="189.3" y2="574.2" stroke="#000" stroke-width="1.5"/>
<text transform="translate(96 588.3) scale(1.04 1)" x="0" y="0" font-size="12.3" text-anchor="middle">Control</text>
<text transform="translate(189.5 588.3) scale(1.04 1)" x="0" y="0" font-size="12.3" text-anchor="middle">flg22</text>
<text x="26" y="493" font-size="12.2" text-anchor="middle" transform="rotate(-90 26 493)">Total photon count (x10<tspan font-size="9" dy="-4.5">3</tspan><tspan dy="4.5">)</tspan></text>
<line x1="70.5" y1="563.58" x2="70.5" y2="561.35" stroke="#000" stroke-width="1.4"/>
<rect x="62.7" y="563.58" width="15.6" height="5.02" fill="#d6d6d6" stroke="#000" stroke-width="1.4"/>
<line x1="96" y1="563.95" x2="96" y2="562.83" stroke="#000" stroke-width="1.4"/>
<rect x="88.7" y="563.95" width="14.6" height="4.65" fill="#a9a9ab" stroke="#000" stroke-width="1.4"/>
<line x1="121.6" y1="565.62" x2="121.6" y2="565.07" stroke="#000" stroke-width="1.4"/>
<rect x="114.3" y="565.62" width="14.6" height="2.98" fill="#5e5e5e" stroke="#000" stroke-width="1.4"/>
<line x1="164.2" y1="482.3" x2="164.2" y2="457.37" stroke="#000" stroke-width="1.4"/>
<rect x="156.6" y="482.3" width="15.2" height="86.3" fill="#d6d6d6" stroke="#000" stroke-width="1.4"/>
<line x1="189.75" y1="547.21" x2="189.75" y2="542.56" stroke="#000" stroke-width="1.4"/>
<rect x="182.2" y="547.21" width="15.1" height="21.39" fill="#a9a9ab" stroke="#000" stroke-width="1.4"/>
<line x1="215.1" y1="560.79" x2="215.1" y2="555.39" stroke="#000" stroke-width="1.4"/>
<rect x="207.7" y="560.79" width="14.8" height="7.81" fill="#5e5e5e" stroke="#000" stroke-width="1.4"/>
<circle cx="70.2" cy="557.3" r="1.5" fill="#000"/>
<circle cx="66" cy="564" r="1.5" fill="#000"/>
<circle cx="70" cy="563.5" r="1.5" fill="#000"/>
<circle cx="74" cy="564" r="1.5" fill="#000"/>
<circle cx="78" cy="564" r="1.5" fill="#000"/>
<rect x="89.6" y="562.1" width="2.8" height="2.8" fill="#000"/>
<rect x="92.6" y="561.9" width="2.8" height="2.8" fill="#000"/>
<rect x="95.6" y="562.1" width="2.8" height="2.8" fill="#000"/>
<rect x="98.6" y="561.9" width="2.8" height="2.8" fill="#000"/>
<circle cx="116" cy="564.6" r="1.0" fill="#000"/>
<circle cx="119" cy="564.6" r="1.0" fill="#000"/>
<circle cx="122" cy="564.6" r="1.0" fill="#000"/>
<circle cx="125" cy="564.6" r="1.0" fill="#000"/>
<circle cx="127" cy="564.6" r="1.0" fill="#000"/>
<circle cx="163.8" cy="447.5" r="1.5" fill="#000"/>
<circle cx="163.8" cy="454.5" r="1.5" fill="#000"/>
<circle cx="161" cy="473.4" r="1.5" fill="#000"/>
<circle cx="167.1" cy="473.8" r="1.5" fill="#000"/>
<circle cx="163.8" cy="477" r="1.5" fill="#000"/>
<circle cx="161" cy="499.7" r="1.5" fill="#000"/>
<circle cx="167.1" cy="501.4" r="1.5" fill="#000"/>
<circle cx="163.8" cy="529.5" r="1.5" fill="#000"/>
<rect x="187.9" y="533.5" width="2.8" height="2.8" fill="#000"/>
<circle cx="189.3" cy="543" r="1.5" fill="#000"/>
<circle cx="186" cy="546.5" r="1.5" fill="#000"/>
<circle cx="192" cy="546" r="1.5" fill="#000"/>
<circle cx="190" cy="549" r="1.5" fill="#000"/>
<circle cx="191.9" cy="552.2" r="1.5" fill="#000"/>
<rect x="187.9" y="559" width="2.8" height="2.8" fill="#000"/>
<circle cx="185" cy="548" r="1.5" fill="#000"/>
<rect x="181.6" y="545.6" width="2.8" height="2.8" fill="#000"/>
<rect x="194.6" y="546.1" width="2.8" height="2.8" fill="#000"/>
<circle cx="188" cy="548.5" r="1.5" fill="#000"/>
<circle cx="213.5" cy="555.5" r="1.5" fill="#000"/>
<circle cx="216.5" cy="555.5" r="1.5" fill="#000"/>
<circle cx="212" cy="560" r="1.5" fill="#000"/>
<circle cx="215" cy="559.5" r="1.5" fill="#000"/>
<circle cx="218" cy="560" r="1.5" fill="#000"/>
<circle cx="220" cy="560.5" r="1.5" fill="#000"/>
<circle cx="210" cy="561" r="1.5" fill="#000"/>
<circle cx="208.5" cy="561" r="1.5" fill="#000"/>
<circle cx="222" cy="561" r="1.5" fill="#000"/>
<text transform="translate(163.2 436.4) scale(1.04 1)" x="0" y="0" font-size="10" text-anchor="middle">a</text>
<text transform="translate(189.5 519.4) scale(1.04 1)" x="0" y="0" font-size="10" text-anchor="middle">b</text>
<text transform="translate(215.6 543.9) scale(1.04 1)" x="0" y="0" font-size="10" text-anchor="middle">b</text>
<circle cx="206.5" cy="423" r="1.6" fill="#000"/>
<rect x="205" y="434.3" width="3" height="3" fill="#000"/>
<circle cx="206.5" cy="449.8" r="1.0" fill="#000"/>
<g><line x1="220.82" y1="423" x2="224.56" y2="423" stroke="#2e2e2e" stroke-width="0.85"/><line x1="220.02" y1="424.92" x2="222.67" y2="427.57" stroke="#2e2e2e" stroke-width="0.85"/><line x1="218.1" y1="425.72" x2="218.1" y2="429.46" stroke="#2e2e2e" stroke-width="0.85"/><line x1="216.18" y1="424.92" x2="213.53" y2="427.57" stroke="#2e2e2e" stroke-width="0.85"/><line x1="215.38" y1="423" x2="211.64" y2="423" stroke="#2e2e2e" stroke-width="0.85"/><line x1="216.18" y1="421.08" x2="213.53" y2="418.43" stroke="#2e2e2e" stroke-width="0.85"/><line x1="218.1" y1="420.28" x2="218.1" y2="416.54" stroke="#2e2e2e" stroke-width="0.85"/><line x1="220.02" y1="421.08" x2="222.67" y2="418.43" stroke="#2e2e2e" stroke-width="0.85"/><circle cx="218.1" cy="423" r="1.91" fill="#fff" stroke="#222" stroke-width="0.94"/></g>
<g><line x1="237.22" y1="423" x2="240.96" y2="423" stroke="#2e2e2e" stroke-width="0.85"/><line x1="236.42" y1="424.92" x2="239.07" y2="427.57" stroke="#2e2e2e" stroke-width="0.85"/><line x1="234.5" y1="425.72" x2="234.5" y2="429.46" stroke="#2e2e2e" stroke-width="0.85"/><line x1="232.58" y1="424.92" x2="229.93" y2="427.57" stroke="#2e2e2e" stroke-width="0.85"/><line x1="231.78" y1="423" x2="228.04" y2="423" stroke="#2e2e2e" stroke-width="0.85"/><line x1="232.58" y1="421.08" x2="229.93" y2="418.43" stroke="#2e2e2e" stroke-width="0.85"/><line x1="234.5" y1="420.28" x2="234.5" y2="416.54" stroke="#2e2e2e" stroke-width="0.85"/><line x1="236.42" y1="421.08" x2="239.07" y2="418.43" stroke="#2e2e2e" stroke-width="0.85"/><circle cx="234.5" cy="423" r="1.91" fill="#fff" stroke="#222" stroke-width="0.94"/></g>
<line x1="228.17" y1="417.05" x2="224.43" y2="428.95" stroke="#111" stroke-width="1.02"/>
<g><line x1="220.82" y1="436" x2="224.56" y2="436" stroke="#2e2e2e" stroke-width="0.85"/><line x1="220.02" y1="437.92" x2="222.67" y2="440.57" stroke="#2e2e2e" stroke-width="0.85"/><line x1="218.1" y1="438.72" x2="218.1" y2="442.46" stroke="#2e2e2e" stroke-width="0.85"/><line x1="216.18" y1="437.92" x2="213.53" y2="440.57" stroke="#2e2e2e" stroke-width="0.85"/><line x1="215.38" y1="436" x2="211.64" y2="436" stroke="#2e2e2e" stroke-width="0.85"/><line x1="216.18" y1="434.08" x2="213.53" y2="431.43" stroke="#2e2e2e" stroke-width="0.85"/><line x1="218.1" y1="433.28" x2="218.1" y2="429.54" stroke="#2e2e2e" stroke-width="0.85"/><line x1="220.02" y1="434.08" x2="222.67" y2="431.43" stroke="#2e2e2e" stroke-width="0.85"/><circle cx="218.1" cy="436" r="1.91" fill="#fff" stroke="#222" stroke-width="0.94"/></g>
<g><line x1="237.32" y1="436" x2="241.06" y2="436" stroke="#2e2e2e" stroke-width="0.85"/><line x1="236.52" y1="437.92" x2="239.17" y2="440.57" stroke="#2e2e2e" stroke-width="0.85"/><line x1="234.6" y1="438.72" x2="234.6" y2="442.46" stroke="#2e2e2e" stroke-width="0.85"/><line x1="232.68" y1="437.92" x2="230.03" y2="440.57" stroke="#2e2e2e" stroke-width="0.85"/><line x1="231.88" y1="436" x2="228.14" y2="436" stroke="#2e2e2e" stroke-width="0.85"/><line x1="232.68" y1="434.08" x2="230.03" y2="431.43" stroke="#2e2e2e" stroke-width="0.85"/><line x1="234.6" y1="433.28" x2="234.6" y2="429.54" stroke="#2e2e2e" stroke-width="0.85"/><line x1="236.52" y1="434.08" x2="239.17" y2="431.43" stroke="#2e2e2e" stroke-width="0.85"/><circle cx="234.6" cy="436" r="2.38" fill="#000"/></g>
<line x1="228.22" y1="430.05" x2="224.48" y2="441.95" stroke="#111" stroke-width="1.02"/>
<g><line x1="220.82" y1="450" x2="224.56" y2="450" stroke="#2e2e2e" stroke-width="0.85"/><line x1="220.02" y1="451.92" x2="222.67" y2="454.57" stroke="#2e2e2e" stroke-width="0.85"/><line x1="218.1" y1="452.72" x2="218.1" y2="456.46" stroke="#2e2e2e" stroke-width="0.85"/><line x1="216.18" y1="451.92" x2="213.53" y2="454.57" stroke="#2e2e2e" stroke-width="0.85"/><line x1="215.38" y1="450" x2="211.64" y2="450" stroke="#2e2e2e" stroke-width="0.85"/><line x1="216.18" y1="448.08" x2="213.53" y2="445.43" stroke="#2e2e2e" stroke-width="0.85"/><line x1="218.1" y1="447.28" x2="218.1" y2="443.54" stroke="#2e2e2e" stroke-width="0.85"/><line x1="220.02" y1="448.08" x2="222.67" y2="445.43" stroke="#2e2e2e" stroke-width="0.85"/><circle cx="218.1" cy="450" r="2.38" fill="#000"/></g>
<g><line x1="237.32" y1="450" x2="241.06" y2="450" stroke="#2e2e2e" stroke-width="0.85"/><line x1="236.52" y1="451.92" x2="239.17" y2="454.57" stroke="#2e2e2e" stroke-width="0.85"/><line x1="234.6" y1="452.72" x2="234.6" y2="456.46" stroke="#2e2e2e" stroke-width="0.85"/><line x1="232.68" y1="451.92" x2="230.03" y2="454.57" stroke="#2e2e2e" stroke-width="0.85"/><line x1="231.88" y1="450" x2="228.14" y2="450" stroke="#2e2e2e" stroke-width="0.85"/><line x1="232.68" y1="448.08" x2="230.03" y2="445.43" stroke="#2e2e2e" stroke-width="0.85"/><line x1="234.6" y1="447.28" x2="234.6" y2="443.54" stroke="#2e2e2e" stroke-width="0.85"/><line x1="236.52" y1="448.08" x2="239.17" y2="445.43" stroke="#2e2e2e" stroke-width="0.85"/><circle cx="234.6" cy="450" r="2.38" fill="#000"/></g>
<line x1="228.22" y1="444.05" x2="224.48" y2="455.95" stroke="#111" stroke-width="1.02"/>
<line x1="303" y1="417" x2="303" y2="566.6" stroke="#000" stroke-width="1.5"/>
<line x1="296.5" y1="566" x2="451" y2="566" stroke="#000" stroke-width="1.5"/>
<line x1="296.5" y1="566" x2="303" y2="566" stroke="#000" stroke-width="1.3"/>
<text transform="translate(294.7 570.1) scale(1.04 1)" x="0" y="0" font-size="11.6" text-anchor="end">0</text>
<line x1="299.5" y1="547.42" x2="303" y2="547.42" stroke="#000" stroke-width="1.3"/>
<line x1="296.5" y1="528.85" x2="303" y2="528.85" stroke="#000" stroke-width="1.3"/>
<text transform="translate(294.7 532.95) scale(1.04 1)" x="0" y="0" font-size="11.6" text-anchor="end">100</text>
<line x1="299.5" y1="510.27" x2="303" y2="510.27" stroke="#000" stroke-width="1.3"/>
<line x1="296.5" y1="491.7" x2="303" y2="491.7" stroke="#000" stroke-width="1.3"/>
<text transform="translate(294.7 495.8) scale(1.04 1)" x="0" y="0" font-size="11.6" text-anchor="end">200</text>
<line x1="299.5" y1="473.12" x2="303" y2="473.12" stroke="#000" stroke-width="1.3"/>
<line x1="296.5" y1="454.55" x2="303" y2="454.55" stroke="#000" stroke-width="1.3"/>
<text transform="translate(294.7 458.65) scale(1.04 1)" x="0" y="0" font-size="11.6" text-anchor="end">300</text>
<line x1="299.5" y1="435.98" x2="303" y2="435.98" stroke="#000" stroke-width="1.3"/>
<line x1="296.5" y1="417.4" x2="303" y2="417.4" stroke="#000" stroke-width="1.3"/>
<text transform="translate(294.7 421.5) scale(1.04 1)" x="0" y="0" font-size="11.6" text-anchor="end">400</text>
<line x1="325" y1="566" x2="325" y2="571.8" stroke="#000" stroke-width="1.5"/>
<line x1="376" y1="566" x2="376" y2="571.8" stroke="#000" stroke-width="1.5"/>
<line x1="428.4" y1="566" x2="428.4" y2="571.8" stroke="#000" stroke-width="1.5"/>
<line x1="315.5" y1="506.19" x2="315.5" y2="479.44" stroke="#000" stroke-width="1.4"/>
<rect x="310.1" y="506.19" width="10.8" height="59.81" fill="#7b7b7b" stroke="#000" stroke-width="1.4"/>
<line x1="334.2" y1="549.02" x2="334.2" y2="541.22" stroke="#000" stroke-width="1.4"/>
<rect x="328.7" y="549.02" width="11" height="16.98" fill="#d5d5d9" stroke="#000" stroke-width="1.4"/>
<line x1="386.5" y1="479.07" x2="386.5" y2="448.23" stroke="#000" stroke-width="1.4"/>
<rect x="380.7" y="479.07" width="11.6" height="86.93" fill="#d5d5d9" stroke="#000" stroke-width="1.4"/>
<circle cx="315.4" cy="467.4" r="1.5" fill="#000"/>
<circle cx="315.4" cy="493.6" r="1.5" fill="#000"/>
<circle cx="315.4" cy="556" r="1.5" fill="#000"/>
<circle cx="362" cy="566" r="1.5" fill="#000"/>
<circle cx="367" cy="566" r="1.5" fill="#000"/>
<circle cx="372" cy="566" r="1.5" fill="#000"/>
<circle cx="414" cy="566" r="1.5" fill="#000"/>
<circle cx="419" cy="566" r="1.5" fill="#000"/>
<circle cx="424" cy="566" r="1.5" fill="#000"/>
<path d="M334 535.15L335.7 537.88L332.3 537.88Z" fill="#2a8f9a"/>
<path d="M334 547.55L335.7 550.27L332.3 550.27Z" fill="#2a8f9a"/>
<path d="M334 560.15L335.7 562.88L332.3 562.88Z" fill="#2a8f9a"/>
<path d="M386.6 441.56L388.3 444.27L384.9 444.27Z" fill="#2a8f9a"/>
<path d="M386.6 452.16L388.3 454.88L384.9 454.88Z" fill="#2a8f9a"/>
<path d="M386.6 540.55L388.3 543.27L384.9 543.27Z" fill="#2a8f9a"/>
<path d="M433 563.95L434.7 566.67L431.3 566.67Z" fill="#2a8f9a"/>
<path d="M438 563.95L439.7 566.67L436.3 566.67Z" fill="#2a8f9a"/>
<path d="M443 563.95L444.7 566.67L441.3 566.67Z" fill="#2a8f9a"/>
<g><line x1="317" y1="582.3" x2="321.4" y2="582.3" stroke="#2e2e2e" stroke-width="0.85"/><line x1="316.06" y1="584.56" x2="319.17" y2="587.67" stroke="#2e2e2e" stroke-width="0.85"/><line x1="313.8" y1="585.5" x2="313.8" y2="589.9" stroke="#2e2e2e" stroke-width="0.85"/><line x1="311.54" y1="584.56" x2="308.43" y2="587.67" stroke="#2e2e2e" stroke-width="0.85"/><line x1="310.6" y1="582.3" x2="306.2" y2="582.3" stroke="#2e2e2e" stroke-width="0.85"/><line x1="311.54" y1="580.04" x2="308.43" y2="576.93" stroke="#2e2e2e" stroke-width="0.85"/><line x1="313.8" y1="579.1" x2="313.8" y2="574.7" stroke="#2e2e2e" stroke-width="0.85"/><line x1="316.06" y1="580.04" x2="319.17" y2="576.93" stroke="#2e2e2e" stroke-width="0.85"/><circle cx="313.8" cy="582.3" r="2.25" fill="#fff" stroke="#222" stroke-width="1.1"/></g>
<g><line x1="337" y1="582.3" x2="341.4" y2="582.3" stroke="#2e2e2e" stroke-width="0.85"/><line x1="336.06" y1="584.56" x2="339.17" y2="587.67" stroke="#2e2e2e" stroke-width="0.85"/><line x1="333.8" y1="585.5" x2="333.8" y2="589.9" stroke="#2e2e2e" stroke-width="0.85"/><line x1="331.54" y1="584.56" x2="328.43" y2="587.67" stroke="#2e2e2e" stroke-width="0.85"/><line x1="330.6" y1="582.3" x2="326.2" y2="582.3" stroke="#2e2e2e" stroke-width="0.85"/><line x1="331.54" y1="580.04" x2="328.43" y2="576.93" stroke="#2e2e2e" stroke-width="0.85"/><line x1="333.8" y1="579.1" x2="333.8" y2="574.7" stroke="#2e2e2e" stroke-width="0.85"/><line x1="336.06" y1="580.04" x2="339.17" y2="576.93" stroke="#2e2e2e" stroke-width="0.85"/><circle cx="333.8" cy="582.3" r="2.25" fill="#fff" stroke="#222" stroke-width="1.1"/></g>
<line x1="326" y1="575.3" x2="321.6" y2="589.3" stroke="#111" stroke-width="1.2"/>
<g><line x1="368" y1="582.3" x2="372.4" y2="582.3" stroke="#2e2e2e" stroke-width="0.85"/><line x1="367.06" y1="584.56" x2="370.17" y2="587.67" stroke="#2e2e2e" stroke-width="0.85"/><line x1="364.8" y1="585.5" x2="364.8" y2="589.9" stroke="#2e2e2e" stroke-width="0.85"/><line x1="362.54" y1="584.56" x2="359.43" y2="587.67" stroke="#2e2e2e" stroke-width="0.85"/><line x1="361.6" y1="582.3" x2="357.2" y2="582.3" stroke="#2e2e2e" stroke-width="0.85"/><line x1="362.54" y1="580.04" x2="359.43" y2="576.93" stroke="#2e2e2e" stroke-width="0.85"/><line x1="364.8" y1="579.1" x2="364.8" y2="574.7" stroke="#2e2e2e" stroke-width="0.85"/><line x1="367.06" y1="580.04" x2="370.17" y2="576.93" stroke="#2e2e2e" stroke-width="0.85"/><circle cx="364.8" cy="582.3" r="2.25" fill="#fff" stroke="#222" stroke-width="1.1"/></g>
<g><line x1="388" y1="582.3" x2="392.4" y2="582.3" stroke="#2e2e2e" stroke-width="0.85"/><line x1="387.06" y1="584.56" x2="390.17" y2="587.67" stroke="#2e2e2e" stroke-width="0.85"/><line x1="384.8" y1="585.5" x2="384.8" y2="589.9" stroke="#2e2e2e" stroke-width="0.85"/><line x1="382.54" y1="584.56" x2="379.43" y2="587.67" stroke="#2e2e2e" stroke-width="0.85"/><line x1="381.6" y1="582.3" x2="377.2" y2="582.3" stroke="#2e2e2e" stroke-width="0.85"/><line x1="382.54" y1="580.04" x2="379.43" y2="576.93" stroke="#2e2e2e" stroke-width="0.85"/><line x1="384.8" y1="579.1" x2="384.8" y2="574.7" stroke="#2e2e2e" stroke-width="0.85"/><line x1="387.06" y1="580.04" x2="390.17" y2="576.93" stroke="#2e2e2e" stroke-width="0.85"/><circle cx="384.8" cy="582.3" r="2.8" fill="#000"/></g>
<line x1="377" y1="575.3" x2="372.6" y2="589.3" stroke="#111" stroke-width="1.2"/>
<g><line x1="420.4" y1="582.3" x2="424.8" y2="582.3" stroke="#2e2e2e" stroke-width="0.85"/><line x1="419.46" y1="584.56" x2="422.57" y2="587.67" stroke="#2e2e2e" stroke-width="0.85"/><line x1="417.2" y1="585.5" x2="417.2" y2="589.9" stroke="#2e2e2e" stroke-width="0.85"/><line x1="414.94" y1="584.56" x2="411.83" y2="587.67" stroke="#2e2e2e" stroke-width="0.85"/><line x1="414" y1="582.3" x2="409.6" y2="582.3" stroke="#2e2e2e" stroke-width="0.85"/><line x1="414.94" y1="580.04" x2="411.83" y2="576.93" stroke="#2e2e2e" stroke-width="0.85"/><line x1="417.2" y1="579.1" x2="417.2" y2="574.7" stroke="#2e2e2e" stroke-width="0.85"/><line x1="419.46" y1="580.04" x2="422.57" y2="576.93" stroke="#2e2e2e" stroke-width="0.85"/><circle cx="417.2" cy="582.3" r="2.8" fill="#000"/></g>
<g><line x1="440.4" y1="582.3" x2="444.8" y2="582.3" stroke="#2e2e2e" stroke-width="0.85"/><line x1="439.46" y1="584.56" x2="442.57" y2="587.67" stroke="#2e2e2e" stroke-width="0.85"/><line x1="437.2" y1="585.5" x2="437.2" y2="589.9" stroke="#2e2e2e" stroke-width="0.85"/><line x1="434.94" y1="584.56" x2="431.83" y2="587.67" stroke="#2e2e2e" stroke-width="0.85"/><line x1="434" y1="582.3" x2="429.6" y2="582.3" stroke="#2e2e2e" stroke-width="0.85"/><line x1="434.94" y1="580.04" x2="431.83" y2="576.93" stroke="#2e2e2e" stroke-width="0.85"/><line x1="437.2" y1="579.1" x2="437.2" y2="574.7" stroke="#2e2e2e" stroke-width="0.85"/><line x1="439.46" y1="580.04" x2="442.57" y2="576.93" stroke="#2e2e2e" stroke-width="0.85"/><circle cx="437.2" cy="582.3" r="2.8" fill="#000"/></g>
<line x1="429.4" y1="575.3" x2="425" y2="589.3" stroke="#111" stroke-width="1.2"/>
<text transform="translate(362.8 404.2) scale(1.04 1)" x="0" y="0" font-size="11.2" font-style="italic">FRK1</text>
<text x="266" y="487.3" font-size="12.8" text-anchor="middle" transform="rotate(-90 266 487.3)">Relative expression</text>
<line x1="482.2" y1="417" x2="482.2" y2="566.6" stroke="#000" stroke-width="1.5"/>
<line x1="475.7" y1="566" x2="631.4" y2="566" stroke="#000" stroke-width="1.5"/>
<line x1="475.7" y1="565.8" x2="482.2" y2="565.8" stroke="#000" stroke-width="1.3"/>
<text transform="translate(473.9 569.9) scale(1.04 1)" x="0" y="0" font-size="11.6" text-anchor="end">0</text>
<line x1="478.7" y1="541" x2="482.2" y2="541" stroke="#000" stroke-width="1.3"/>
<line x1="475.7" y1="516.2" x2="482.2" y2="516.2" stroke="#000" stroke-width="1.3"/>
<text transform="translate(473.9 520.3) scale(1.04 1)" x="0" y="0" font-size="11.6" text-anchor="end">200</text>
<line x1="478.7" y1="491.4" x2="482.2" y2="491.4" stroke="#000" stroke-width="1.3"/>
<line x1="475.7" y1="466.6" x2="482.2" y2="466.6" stroke="#000" stroke-width="1.3"/>
<text transform="translate(473.9 470.7) scale(1.04 1)" x="0" y="0" font-size="11.6" text-anchor="end">400</text>
<line x1="478.7" y1="441.8" x2="482.2" y2="441.8" stroke="#000" stroke-width="1.3"/>
<line x1="475.7" y1="417" x2="482.2" y2="417" stroke="#000" stroke-width="1.3"/>
<text transform="translate(473.9 421.1) scale(1.04 1)" x="0" y="0" font-size="11.6" text-anchor="end">600</text>
<line x1="504.6" y1="566" x2="504.6" y2="571.8" stroke="#000" stroke-width="1.5"/>
<line x1="555.6" y1="566" x2="555.6" y2="571.8" stroke="#000" stroke-width="1.5"/>
<line x1="608.4" y1="566" x2="608.4" y2="571.8" stroke="#000" stroke-width="1.5"/>
<line x1="495" y1="501.57" x2="495" y2="472.8" stroke="#000" stroke-width="1.4"/>
<rect x="489.7" y="501.57" width="10.6" height="64.23" fill="#7b7b7b" stroke="#000" stroke-width="1.4"/>
<line x1="514.3" y1="544.22" x2="514.3" y2="537.03" stroke="#000" stroke-width="1.4"/>
<rect x="509.3" y="544.22" width="10" height="21.58" fill="#d5d5d9" stroke="#000" stroke-width="1.4"/>
<line x1="566.4" y1="493.88" x2="566.4" y2="460.9" stroke="#000" stroke-width="1.4"/>
<rect x="561.1" y="493.88" width="10.6" height="71.92" fill="#d5d5d9" stroke="#000" stroke-width="1.4"/>
<circle cx="495" cy="453.4" r="1.5" fill="#000"/>
<circle cx="495" cy="502.5" r="1.5" fill="#000"/>
<circle cx="495" cy="551" r="1.5" fill="#000"/>
<circle cx="542" cy="566" r="1.5" fill="#000"/>
<circle cx="547" cy="566" r="1.5" fill="#000"/>
<circle cx="551.6" cy="566" r="1.5" fill="#000"/>
<circle cx="594" cy="566" r="1.5" fill="#000"/>
<circle cx="599" cy="566" r="1.5" fill="#000"/>
<circle cx="604" cy="566" r="1.5" fill="#000"/>
<path d="M514 530.95L515.7 533.67L512.3 533.67Z" fill="#2a8f9a"/>
<path d="M514 542.15L515.7 544.88L512.3 544.88Z" fill="#2a8f9a"/>
<path d="M514 555.55L515.7 558.27L512.3 558.27Z" fill="#2a8f9a"/>
<path d="M566 428.56L567.7 431.27L564.3 431.27Z" fill="#2a8f9a"/>
<path d="M563 524.95L564.7 527.67L561.3 527.67Z" fill="#2a8f9a"/>
<path d="M569.4 524.95L571.1 527.67L567.7 527.67Z" fill="#2a8f9a"/>
<path d="M613 563.95L614.7 566.67L611.3 566.67Z" fill="#2a8f9a"/>
<path d="M618.3 563.95L620 566.67L616.6 566.67Z" fill="#2a8f9a"/>
<path d="M623.7 563.95L625.4 566.67L622 566.67Z" fill="#2a8f9a"/>
<g><line x1="496.6" y1="582.3" x2="501" y2="582.3" stroke="#2e2e2e" stroke-width="0.85"/><line x1="495.66" y1="584.56" x2="498.77" y2="587.67" stroke="#2e2e2e" stroke-width="0.85"/><line x1="493.4" y1="585.5" x2="493.4" y2="589.9" stroke="#2e2e2e" stroke-width="0.85"/><line x1="491.14" y1="584.56" x2="488.03" y2="587.67" stroke="#2e2e2e" stroke-width="0.85"/><line x1="490.2" y1="582.3" x2="485.8" y2="582.3" stroke="#2e2e2e" stroke-width="0.85"/><line x1="491.14" y1="580.04" x2="488.03" y2="576.93" stroke="#2e2e2e" stroke-width="0.85"/><line x1="493.4" y1="579.1" x2="493.4" y2="574.7" stroke="#2e2e2e" stroke-width="0.85"/><line x1="495.66" y1="580.04" x2="498.77" y2="576.93" stroke="#2e2e2e" stroke-width="0.85"/><circle cx="493.4" cy="582.3" r="2.25" fill="#fff" stroke="#222" stroke-width="1.1"/></g>
<g><line x1="516.6" y1="582.3" x2="521" y2="582.3" stroke="#2e2e2e" stroke-width="0.85"/><line x1="515.66" y1="584.56" x2="518.77" y2="587.67" stroke="#2e2e2e" stroke-width="0.85"/><line x1="513.4" y1="585.5" x2="513.4" y2="589.9" stroke="#2e2e2e" stroke-width="0.85"/><line x1="511.14" y1="584.56" x2="508.03" y2="587.67" stroke="#2e2e2e" stroke-width="0.85"/><line x1="510.2" y1="582.3" x2="505.8" y2="582.3" stroke="#2e2e2e" stroke-width="0.85"/><line x1="511.14" y1="580.04" x2="508.03" y2="576.93" stroke="#2e2e2e" stroke-width="0.85"/><line x1="513.4" y1="579.1" x2="513.4" y2="574.7" stroke="#2e2e2e" stroke-width="0.85"/><line x1="515.66" y1="580.04" x2="518.77" y2="576.93" stroke="#2e2e2e" stroke-width="0.85"/><circle cx="513.4" cy="582.3" r="2.25" fill="#fff" stroke="#222" stroke-width="1.1"/></g>
<line x1="505.6" y1="575.3" x2="501.2" y2="589.3" stroke="#111" stroke-width="1.2"/>
<g><line x1="547.6" y1="582.3" x2="552" y2="582.3" stroke="#2e2e2e" stroke-width="0.85"/><line x1="546.66" y1="584.56" x2="549.77" y2="587.67" stroke="#2e2e2e" stroke-width="0.85"/><line x1="544.4" y1="585.5" x2="544.4" y2="589.9" stroke="#2e2e2e" stroke-width="0.85"/><line x1="542.14" y1="584.56" x2="539.03" y2="587.67" stroke="#2e2e2e" stroke-width="0.85"/><line x1="541.2" y1="582.3" x2="536.8" y2="582.3" stroke="#2e2e2e" stroke-width="0.85"/><line x1="542.14" y1="580.04" x2="539.03" y2="576.93" stroke="#2e2e2e" stroke-width="0.85"/><line x1="544.4" y1="579.1" x2="544.4" y2="574.7" stroke="#2e2e2e" stroke-width="0.85"/><line x1="546.66" y1="580.04" x2="549.77" y2="576.93" stroke="#2e2e2e" stroke-width="0.85"/><circle cx="544.4" cy="582.3" r="2.25" fill="#fff" stroke="#222" stroke-width="1.1"/></g>
<g><line x1="567.6" y1="582.3" x2="572" y2="582.3" stroke="#2e2e2e" stroke-width="0.85"/><line x1="566.66" y1="584.56" x2="569.77" y2="587.67" stroke="#2e2e2e" stroke-width="0.85"/><line x1="564.4" y1="585.5" x2="564.4" y2="589.9" stroke="#2e2e2e" stroke-width="0.85"/><line x1="562.14" y1="584.56" x2="559.03" y2="587.67" stroke="#2e2e2e" stroke-width="0.85"/><line x1="561.2" y1="582.3" x2="556.8" y2="582.3" stroke="#2e2e2e" stroke-width="0.85"/><line x1="562.14" y1="580.04" x2="559.03" y2="576.93" stroke="#2e2e2e" stroke-width="0.85"/><line x1="564.4" y1="579.1" x2="564.4" y2="574.7" stroke="#2e2e2e" stroke-width="0.85"/><line x1="566.66" y1="580.04" x2="569.77" y2="576.93" stroke="#2e2e2e" stroke-width="0.85"/><circle cx="564.4" cy="582.3" r="2.8" fill="#000"/></g>
<line x1="556.6" y1="575.3" x2="552.2" y2="589.3" stroke="#111" stroke-width="1.2"/>
<g><line x1="600.4" y1="582.3" x2="604.8" y2="582.3" stroke="#2e2e2e" stroke-width="0.85"/><line x1="599.46" y1="584.56" x2="602.57" y2="587.67" stroke="#2e2e2e" stroke-width="0.85"/><line x1="597.2" y1="585.5" x2="597.2" y2="589.9" stroke="#2e2e2e" stroke-width="0.85"/><line x1="594.94" y1="584.56" x2="591.83" y2="587.67" stroke="#2e2e2e" stroke-width="0.85"/><line x1="594" y1="582.3" x2="589.6" y2="582.3" stroke="#2e2e2e" stroke-width="0.85"/><line x1="594.94" y1="580.04" x2="591.83" y2="576.93" stroke="#2e2e2e" stroke-width="0.85"/><line x1="597.2" y1="579.1" x2="597.2" y2="574.7" stroke="#2e2e2e" stroke-width="0.85"/><line x1="599.46" y1="580.04" x2="602.57" y2="576.93" stroke="#2e2e2e" stroke-width="0.85"/><circle cx="597.2" cy="582.3" r="2.8" fill="#000"/></g>
<g><line x1="620.4" y1="582.3" x2="624.8" y2="582.3" stroke="#2e2e2e" stroke-width="0.85"/><line x1="619.46" y1="584.56" x2="622.57" y2="587.67" stroke="#2e2e2e" stroke-width="0.85"/><line x1="617.2" y1="585.5" x2="617.2" y2="589.9" stroke="#2e2e2e" stroke-width="0.85"/><line x1="614.94" y1="584.56" x2="611.83" y2="587.67" stroke="#2e2e2e" stroke-width="0.85"/><line x1="614" y1="582.3" x2="609.6" y2="582.3" stroke="#2e2e2e" stroke-width="0.85"/><line x1="614.94" y1="580.04" x2="611.83" y2="576.93" stroke="#2e2e2e" stroke-width="0.85"/><line x1="617.2" y1="579.1" x2="617.2" y2="574.7" stroke="#2e2e2e" stroke-width="0.85"/><line x1="619.46" y1="580.04" x2="622.57" y2="576.93" stroke="#2e2e2e" stroke-width="0.85"/><circle cx="617.2" cy="582.3" r="2.8" fill="#000"/></g>
<line x1="609.4" y1="575.3" x2="605" y2="589.3" stroke="#111" stroke-width="1.2"/>
<text transform="translate(536 405) scale(1.04 1)" x="0" y="0" font-size="11.2" font-style="italic">WRK29</text>
<circle cx="623.3" cy="426.2" r="1.8" fill="#000"/>
<path d="M623.3 438.4L625.3 441.6L621.3 441.6Z" fill="#1e7a5e"/>
<text transform="translate(640 430.6) scale(1.04 1)" x="0" y="0" font-size="10.6">Control</text>
<text transform="translate(640 443.6) scale(1.04 1)" x="0" y="0" font-size="10.6">flg22</text>
</svg></body></html>
